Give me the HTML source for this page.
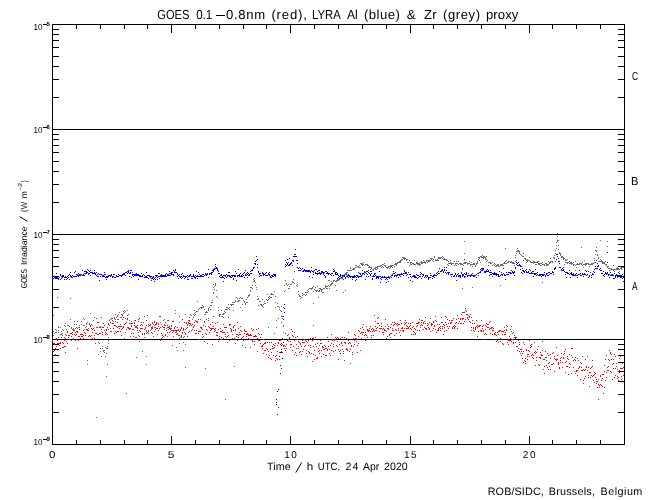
<!DOCTYPE html>
<html><head><meta charset="utf-8"><style>
html,body{margin:0;padding:0;background:#fff;}
svg{display:block;will-change:transform;}
text{font-family:"Liberation Sans",sans-serif;fill:#000;text-rendering:geometricPrecision;}
</style></head><body>
<svg width="650" height="500" viewBox="0 0 650 500">
<rect width="650" height="500" fill="#fff"/>
<g shape-rendering="crispEdges"><rect x="52" y="24" width="573" height="1" fill="#000"/><rect x="52" y="444" width="573" height="1" fill="#000"/><rect x="52" y="24" width="1" height="421" fill="#000"/><rect x="624" y="24" width="1" height="421" fill="#000"/><rect x="52" y="339" width="573" height="1" fill="#000"/><rect x="52" y="234" width="573" height="1" fill="#000"/><rect x="52" y="129" width="573" height="1" fill="#000"/><rect x="52" y="412" width="7" height="1" fill="#000"/><rect x="618" y="412" width="7" height="1" fill="#000"/><rect x="52" y="394" width="7" height="1" fill="#000"/><rect x="618" y="394" width="7" height="1" fill="#000"/><rect x="52" y="381" width="7" height="1" fill="#000"/><rect x="618" y="381" width="7" height="1" fill="#000"/><rect x="52" y="371" width="7" height="1" fill="#000"/><rect x="618" y="371" width="7" height="1" fill="#000"/><rect x="52" y="362" width="7" height="1" fill="#000"/><rect x="618" y="362" width="7" height="1" fill="#000"/><rect x="52" y="355" width="7" height="1" fill="#000"/><rect x="618" y="355" width="7" height="1" fill="#000"/><rect x="52" y="349" width="7" height="1" fill="#000"/><rect x="618" y="349" width="7" height="1" fill="#000"/><rect x="52" y="344" width="7" height="1" fill="#000"/><rect x="618" y="344" width="7" height="1" fill="#000"/><rect x="52" y="307" width="7" height="1" fill="#000"/><rect x="618" y="307" width="7" height="1" fill="#000"/><rect x="52" y="289" width="7" height="1" fill="#000"/><rect x="618" y="289" width="7" height="1" fill="#000"/><rect x="52" y="276" width="7" height="1" fill="#000"/><rect x="618" y="276" width="7" height="1" fill="#000"/><rect x="52" y="266" width="7" height="1" fill="#000"/><rect x="618" y="266" width="7" height="1" fill="#000"/><rect x="52" y="257" width="7" height="1" fill="#000"/><rect x="618" y="257" width="7" height="1" fill="#000"/><rect x="52" y="250" width="7" height="1" fill="#000"/><rect x="618" y="250" width="7" height="1" fill="#000"/><rect x="52" y="244" width="7" height="1" fill="#000"/><rect x="618" y="244" width="7" height="1" fill="#000"/><rect x="52" y="239" width="7" height="1" fill="#000"/><rect x="618" y="239" width="7" height="1" fill="#000"/><rect x="52" y="202" width="7" height="1" fill="#000"/><rect x="618" y="202" width="7" height="1" fill="#000"/><rect x="52" y="184" width="7" height="1" fill="#000"/><rect x="618" y="184" width="7" height="1" fill="#000"/><rect x="52" y="171" width="7" height="1" fill="#000"/><rect x="618" y="171" width="7" height="1" fill="#000"/><rect x="52" y="161" width="7" height="1" fill="#000"/><rect x="618" y="161" width="7" height="1" fill="#000"/><rect x="52" y="152" width="7" height="1" fill="#000"/><rect x="618" y="152" width="7" height="1" fill="#000"/><rect x="52" y="145" width="7" height="1" fill="#000"/><rect x="618" y="145" width="7" height="1" fill="#000"/><rect x="52" y="139" width="7" height="1" fill="#000"/><rect x="618" y="139" width="7" height="1" fill="#000"/><rect x="52" y="134" width="7" height="1" fill="#000"/><rect x="618" y="134" width="7" height="1" fill="#000"/><rect x="52" y="97" width="7" height="1" fill="#000"/><rect x="618" y="97" width="7" height="1" fill="#000"/><rect x="52" y="79" width="7" height="1" fill="#000"/><rect x="618" y="79" width="7" height="1" fill="#000"/><rect x="52" y="66" width="7" height="1" fill="#000"/><rect x="618" y="66" width="7" height="1" fill="#000"/><rect x="52" y="56" width="7" height="1" fill="#000"/><rect x="618" y="56" width="7" height="1" fill="#000"/><rect x="52" y="47" width="7" height="1" fill="#000"/><rect x="618" y="47" width="7" height="1" fill="#000"/><rect x="52" y="40" width="7" height="1" fill="#000"/><rect x="618" y="40" width="7" height="1" fill="#000"/><rect x="52" y="34" width="7" height="1" fill="#000"/><rect x="618" y="34" width="7" height="1" fill="#000"/><rect x="52" y="29" width="7" height="1" fill="#000"/><rect x="618" y="29" width="7" height="1" fill="#000"/><rect x="76" y="440" width="1" height="5" fill="#000"/><rect x="76" y="24" width="1" height="5" fill="#000"/><rect x="100" y="440" width="1" height="5" fill="#000"/><rect x="100" y="24" width="1" height="5" fill="#000"/><rect x="124" y="440" width="1" height="5" fill="#000"/><rect x="124" y="24" width="1" height="5" fill="#000"/><rect x="147" y="440" width="1" height="5" fill="#000"/><rect x="147" y="24" width="1" height="5" fill="#000"/><rect x="171" y="436" width="1" height="9" fill="#000"/><rect x="171" y="24" width="1" height="9" fill="#000"/><rect x="195" y="440" width="1" height="5" fill="#000"/><rect x="195" y="24" width="1" height="5" fill="#000"/><rect x="219" y="440" width="1" height="5" fill="#000"/><rect x="219" y="24" width="1" height="5" fill="#000"/><rect x="243" y="440" width="1" height="5" fill="#000"/><rect x="243" y="24" width="1" height="5" fill="#000"/><rect x="266" y="440" width="1" height="5" fill="#000"/><rect x="266" y="24" width="1" height="5" fill="#000"/><rect x="290" y="436" width="1" height="9" fill="#000"/><rect x="290" y="24" width="1" height="9" fill="#000"/><rect x="314" y="440" width="1" height="5" fill="#000"/><rect x="314" y="24" width="1" height="5" fill="#000"/><rect x="338" y="440" width="1" height="5" fill="#000"/><rect x="338" y="24" width="1" height="5" fill="#000"/><rect x="362" y="440" width="1" height="5" fill="#000"/><rect x="362" y="24" width="1" height="5" fill="#000"/><rect x="386" y="440" width="1" height="5" fill="#000"/><rect x="386" y="24" width="1" height="5" fill="#000"/><rect x="410" y="436" width="1" height="9" fill="#000"/><rect x="410" y="24" width="1" height="9" fill="#000"/><rect x="433" y="440" width="1" height="5" fill="#000"/><rect x="433" y="24" width="1" height="5" fill="#000"/><rect x="457" y="440" width="1" height="5" fill="#000"/><rect x="457" y="24" width="1" height="5" fill="#000"/><rect x="481" y="440" width="1" height="5" fill="#000"/><rect x="481" y="24" width="1" height="5" fill="#000"/><rect x="505" y="440" width="1" height="5" fill="#000"/><rect x="505" y="24" width="1" height="5" fill="#000"/><rect x="529" y="436" width="1" height="9" fill="#000"/><rect x="529" y="24" width="1" height="9" fill="#000"/><rect x="552" y="440" width="1" height="5" fill="#000"/><rect x="552" y="24" width="1" height="5" fill="#000"/><rect x="576" y="440" width="1" height="5" fill="#000"/><rect x="576" y="24" width="1" height="5" fill="#000"/><rect x="600" y="440" width="1" height="5" fill="#000"/><rect x="600" y="24" width="1" height="5" fill="#000"/><rect x="43" y="24" width="4" height="1" fill="#000"/><rect x="43" y="127" width="4" height="1" fill="#000"/><rect x="43" y="232" width="4" height="1" fill="#000"/><rect x="43" y="337" width="4" height="1" fill="#000"/><rect x="43" y="439" width="4" height="1" fill="#000"/><rect x="216" y="15" width="9" height="1" fill="#000"/></g>
<g shape-rendering="crispEdges"><path fill="#6a6a6a" d="M53 331h1v1h-1zM53 335h1v1h-1zM54 333h1v1h-1zM55 332h1v1h-1zM55 329h1v1h-1zM56 330h1v1h-1zM56 332h1v1h-1zM58 327h1v1h-1zM58 330h1v1h-1zM58 326h1v1h-1zM60 334h1v1h-1zM60 327h1v1h-1zM61 331h1v1h-1zM62 333h1v1h-1zM62 329h1v1h-1zM63 330h1v1h-1zM64 325h1v1h-1zM65 334h1v1h-1zM65 323h1v1h-1zM65 326h1v1h-1zM66 329h1v1h-1zM67 325h1v1h-1zM67 332h1v1h-1zM68 325h1v1h-1zM69 326h1v1h-1zM70 319h1v1h-1zM71 327h1v1h-1zM71 328h1v1h-1zM72 329h1v1h-1zM73 329h1v1h-1zM73 328h1v1h-1zM73 330h1v1h-1zM74 324h1v1h-1zM74 321h1v1h-1zM75 328h1v1h-1zM76 327h1v1h-1zM76 324h1v1h-1zM77 328h1v1h-1zM77 321h1v1h-1zM78 327h1v1h-1zM79 329h1v1h-1zM79 325h1v1h-1zM81 321h1v1h-1zM81 324h1v1h-1zM83 318h1v1h-1zM83 325h1v1h-1zM84 319h1v1h-1zM84 325h1v1h-1zM85 327h1v1h-1zM86 326h1v1h-1zM86 324h1v1h-1zM87 322h1v1h-1zM88 328h1v1h-1zM89 324h1v1h-1zM89 323h1v1h-1zM90 313h1v1h-1zM91 324h1v1h-1zM92 325h1v1h-1zM93 328h1v1h-1zM93 320h1v1h-1zM94 317h1v1h-1zM96 327h1v1h-1zM97 334h1v1h-1zM98 342h1v1h-1zM99 343h1v1h-1zM100 351h1v1h-1zM100 348h1v1h-1zM102 348h1v1h-1zM102 346h1v1h-1zM103 350h1v1h-1zM103 351h1v1h-1zM104 350h1v1h-1zM104 352h1v1h-1zM105 347h1v1h-1zM105 356h1v1h-1zM106 348h1v1h-1zM107 346h1v1h-1zM107 348h1v1h-1zM108 343h1v1h-1zM108 340h1v1h-1zM108 337h1v1h-1zM110 331h1v1h-1zM110 328h1v1h-1zM113 321h1v1h-1zM113 323h1v1h-1zM114 317h1v1h-1zM114 318h1v1h-1zM115 321h1v1h-1zM115 319h1v1h-1zM116 317h1v1h-1zM117 316h1v1h-1zM117 315h1v1h-1zM117 319h1v1h-1zM118 319h1v1h-1zM118 314h1v1h-1zM119 312h1v1h-1zM120 317h1v1h-1zM120 324h1v1h-1zM121 314h1v1h-1zM121 317h1v1h-1zM122 315h1v1h-1zM122 314h1v1h-1zM123 311h1v1h-1zM123 313h1v1h-1zM124 312h1v1h-1zM124 310h1v1h-1zM125 311h1v1h-1zM127 310h1v1h-1zM127 318h1v1h-1zM128 314h1v1h-1zM129 320h1v1h-1zM130 323h1v1h-1zM131 321h1v1h-1zM131 326h1v1h-1zM134 320h1v1h-1zM134 322h1v1h-1zM135 327h1v1h-1zM136 327h1v1h-1zM136 326h1v1h-1zM137 328h1v1h-1zM137 327h1v1h-1zM138 335h1v1h-1zM138 332h1v1h-1zM139 330h1v1h-1zM139 336h1v1h-1zM141 324h1v1h-1zM142 351h1v1h-1zM142 333h1v1h-1zM144 337h1v1h-1zM144 333h1v1h-1zM146 330h1v1h-1zM146 333h1v1h-1zM146 331h1v1h-1zM147 332h1v1h-1zM148 330h1v1h-1zM148 326h1v1h-1zM149 325h1v1h-1zM150 330h1v1h-1zM150 325h1v1h-1zM151 329h1v1h-1zM151 328h1v1h-1zM152 326h1v1h-1zM152 322h1v1h-1zM152 327h1v1h-1zM154 327h1v1h-1zM154 325h1v1h-1zM155 327h1v1h-1zM156 323h1v1h-1zM156 328h1v1h-1zM157 328h1v1h-1zM158 324h1v1h-1zM158 326h1v1h-1zM160 322h1v1h-1zM161 324h1v1h-1zM163 327h1v1h-1zM163 320h1v1h-1zM164 319h1v1h-1zM164 325h1v1h-1zM165 325h1v1h-1zM166 328h1v1h-1zM167 320h1v1h-1zM167 336h1v1h-1zM168 329h1v1h-1zM169 327h1v1h-1zM169 326h1v1h-1zM170 331h1v1h-1zM171 328h1v1h-1zM171 330h1v1h-1zM172 330h1v1h-1zM173 331h1v1h-1zM173 330h1v1h-1zM174 327h1v1h-1zM175 332h1v1h-1zM175 330h1v1h-1zM176 331h1v1h-1zM176 332h1v1h-1zM177 330h1v1h-1zM177 334h1v1h-1zM178 335h1v1h-1zM179 322h1v1h-1zM179 338h1v1h-1zM180 337h1v1h-1zM181 337h1v1h-1zM181 336h1v1h-1zM182 333h1v1h-1zM183 330h1v1h-1zM183 342h1v1h-1zM184 336h1v1h-1zM184 332h1v1h-1zM185 334h1v1h-1zM186 328h1v1h-1zM187 324h1v1h-1zM187 325h1v1h-1zM188 322h1v1h-1zM188 323h1v1h-1zM189 325h1v1h-1zM189 321h1v1h-1zM189 317h1v1h-1zM191 315h1v1h-1zM192 319h1v1h-1zM193 317h1v1h-1zM193 314h1v1h-1zM194 315h1v1h-1zM194 310h1v1h-1zM194 313h1v1h-1zM195 314h1v1h-1zM195 312h1v1h-1zM196 311h1v1h-1zM197 311h1v1h-1zM197 301h1v1h-1zM198 309h1v1h-1zM199 308h1v1h-1zM200 307h1v1h-1zM201 308h1v1h-1zM201 307h1v1h-1zM202 307h1v1h-1zM202 305h1v1h-1zM203 306h1v1h-1zM203 307h1v1h-1zM204 309h1v1h-1zM204 314h1v1h-1zM205 314h1v1h-1zM205 312h1v1h-1zM206 311h1v1h-1zM206 312h1v1h-1zM207 312h1v1h-1zM208 309h1v1h-1zM208 308h1v1h-1zM208 310h1v1h-1zM209 307h1v1h-1zM210 305h1v1h-1zM210 309h1v1h-1zM211 305h1v1h-1zM211 302h1v1h-1zM212 302h1v1h-1zM212 300h1v1h-1zM213 293h1v1h-1zM213 287h1v1h-1zM214 289h1v1h-1zM214 286h1v1h-1zM215 285h1v1h-1zM215 284h1v1h-1zM215 283h1v1h-1zM216 290h1v1h-1zM216 296h1v1h-1zM217 297h1v1h-1zM218 307h1v1h-1zM218 310h1v1h-1zM219 315h1v1h-1zM219 316h1v1h-1zM220 314h1v1h-1zM221 310h1v1h-1zM221 316h1v1h-1zM222 316h1v1h-1zM222 314h1v1h-1zM223 314h1v1h-1zM223 313h1v1h-1zM223 317h1v1h-1zM224 311h1v1h-1zM224 313h1v1h-1zM225 312h1v1h-1zM225 309h1v1h-1zM226 307h1v1h-1zM226 309h1v1h-1zM227 307h1v1h-1zM227 309h1v1h-1zM228 308h1v1h-1zM228 304h1v1h-1zM229 309h1v1h-1zM229 307h1v1h-1zM230 304h1v1h-1zM231 304h1v1h-1zM231 305h1v1h-1zM232 302h1v1h-1zM232 304h1v1h-1zM233 310h1v1h-1zM233 302h1v1h-1zM233 304h1v1h-1zM234 302h1v1h-1zM235 301h1v1h-1zM235 300h1v1h-1zM236 297h1v1h-1zM237 298h1v1h-1zM237 301h1v1h-1zM238 300h1v1h-1zM238 301h1v1h-1zM239 300h1v1h-1zM239 298h1v1h-1zM240 297h1v1h-1zM240 307h1v1h-1zM241 298h1v1h-1zM242 304h1v1h-1zM242 298h1v1h-1zM242 310h1v1h-1zM243 300h1v1h-1zM244 302h1v1h-1zM244 301h1v1h-1zM245 304h1v1h-1zM245 303h1v1h-1zM246 302h1v1h-1zM246 299h1v1h-1zM247 302h1v1h-1zM247 297h1v1h-1zM248 295h1v1h-1zM248 296h1v1h-1zM249 294h1v1h-1zM249 295h1v1h-1zM250 290h1v1h-1zM250 291h1v1h-1zM250 287h1v1h-1zM251 287h1v1h-1zM252 288h1v1h-1zM252 285h1v1h-1zM253 279h1v1h-1zM253 281h1v1h-1zM254 280h1v1h-1zM254 278h1v1h-1zM254 281h1v1h-1zM255 282h1v1h-1zM255 285h1v1h-1zM256 289h1v1h-1zM256 287h1v1h-1zM257 299h1v1h-1zM257 296h1v1h-1zM258 305h1v1h-1zM258 298h1v1h-1zM258 299h1v1h-1zM259 301h1v1h-1zM260 301h1v1h-1zM260 304h1v1h-1zM261 304h1v1h-1zM261 305h1v1h-1zM262 305h1v1h-1zM262 306h1v1h-1zM262 299h1v1h-1zM263 307h1v1h-1zM263 304h1v1h-1zM264 301h1v1h-1zM264 303h1v1h-1zM265 303h1v1h-1zM266 299h1v1h-1zM267 294h1v1h-1zM267 302h1v1h-1zM267 300h1v1h-1zM268 297h1v1h-1zM268 299h1v1h-1zM269 298h1v1h-1zM269 296h1v1h-1zM270 297h1v1h-1zM270 294h1v1h-1zM271 294h1v1h-1zM271 297h1v1h-1zM271 293h1v1h-1zM272 294h1v1h-1zM273 294h1v1h-1zM274 291h1v1h-1zM275 296h1v1h-1zM275 307h1v1h-1zM275 302h1v1h-1zM277 306h1v1h-1zM277 303h1v1h-1zM278 306h1v1h-1zM279 307h1v1h-1zM279 309h1v1h-1zM280 310h1v1h-1zM281 311h1v1h-1zM281 306h1v1h-1zM281 316h1v1h-1zM282 318h1v1h-1zM282 316h1v1h-1zM283 326h1v1h-1zM283 307h1v1h-1zM284 291h1v1h-1zM284 285h1v1h-1zM285 290h1v1h-1zM285 280h1v1h-1zM286 283h1v1h-1zM286 284h1v1h-1zM287 285h1v1h-1zM288 284h1v1h-1zM288 288h1v1h-1zM289 286h1v1h-1zM289 288h1v1h-1zM290 284h1v1h-1zM291 284h1v1h-1zM292 282h1v1h-1zM292 281h1v1h-1zM293 279h1v1h-1zM293 282h1v1h-1zM294 271h1v1h-1zM294 283h1v1h-1zM296 285h1v1h-1zM297 284h1v1h-1zM297 286h1v1h-1zM298 291h1v1h-1zM298 294h1v1h-1zM299 296h1v1h-1zM299 295h1v1h-1zM300 298h1v1h-1zM300 296h1v1h-1zM301 297h1v1h-1zM302 293h1v1h-1zM302 295h1v1h-1zM303 294h1v1h-1zM304 294h1v1h-1zM305 295h1v1h-1zM305 292h1v1h-1zM306 294h1v1h-1zM306 292h1v1h-1zM307 290h1v1h-1zM307 292h1v1h-1zM308 289h1v1h-1zM308 291h1v1h-1zM309 288h1v1h-1zM310 288h1v1h-1zM311 288h1v1h-1zM311 289h1v1h-1zM312 288h1v1h-1zM312 287h1v1h-1zM313 286h1v1h-1zM313 291h1v1h-1zM314 289h1v1h-1zM315 290h1v1h-1zM315 287h1v1h-1zM316 291h1v1h-1zM316 290h1v1h-1zM317 286h1v1h-1zM317 290h1v1h-1zM318 297h1v1h-1zM318 291h1v1h-1zM319 291h1v1h-1zM319 290h1v1h-1zM319 288h1v1h-1zM320 289h1v1h-1zM320 288h1v1h-1zM321 289h1v1h-1zM321 291h1v1h-1zM321 290h1v1h-1zM322 292h1v1h-1zM322 289h1v1h-1zM323 292h1v1h-1zM323 288h1v1h-1zM324 288h1v1h-1zM325 286h1v1h-1zM325 287h1v1h-1zM325 285h1v1h-1zM326 286h1v1h-1zM326 288h1v1h-1zM327 286h1v1h-1zM327 288h1v1h-1zM328 285h1v1h-1zM328 280h1v1h-1zM329 288h1v1h-1zM329 286h1v1h-1zM329 280h1v1h-1zM330 284h1v1h-1zM330 285h1v1h-1zM331 283h1v1h-1zM331 284h1v1h-1zM331 281h1v1h-1zM332 282h1v1h-1zM332 283h1v1h-1zM333 281h1v1h-1zM333 280h1v1h-1zM334 280h1v1h-1zM335 281h1v1h-1zM335 285h1v1h-1zM336 280h1v1h-1zM336 281h1v1h-1zM337 280h1v1h-1zM337 279h1v1h-1zM338 280h1v1h-1zM338 279h1v1h-1zM339 278h1v1h-1zM339 279h1v1h-1zM340 278h1v1h-1zM341 278h1v1h-1zM341 275h1v1h-1zM342 276h1v1h-1zM342 275h1v1h-1zM342 278h1v1h-1zM343 276h1v1h-1zM344 274h1v1h-1zM345 274h1v1h-1zM345 273h1v1h-1zM346 273h1v1h-1zM346 272h1v1h-1zM347 272h1v1h-1zM347 270h1v1h-1zM348 270h1v1h-1zM349 270h1v1h-1zM350 270h1v1h-1zM350 267h1v1h-1zM350 268h1v1h-1zM351 270h1v1h-1zM352 269h1v1h-1zM353 268h1v1h-1zM353 269h1v1h-1zM354 269h1v1h-1zM354 268h1v1h-1zM355 265h1v1h-1zM355 267h1v1h-1zM356 267h1v1h-1zM356 265h1v1h-1zM357 266h1v1h-1zM358 267h1v1h-1zM358 266h1v1h-1zM359 267h1v1h-1zM359 265h1v1h-1zM360 263h1v1h-1zM360 267h1v1h-1zM361 264h1v1h-1zM361 263h1v1h-1zM362 265h1v1h-1zM362 264h1v1h-1zM362 263h1v1h-1zM363 262h1v1h-1zM363 264h1v1h-1zM364 265h1v1h-1zM365 264h1v1h-1zM366 264h1v1h-1zM367 264h1v1h-1zM367 265h1v1h-1zM368 265h1v1h-1zM368 267h1v1h-1zM369 266h1v1h-1zM369 267h1v1h-1zM370 267h1v1h-1zM370 269h1v1h-1zM371 267h1v1h-1zM371 268h1v1h-1zM372 269h1v1h-1zM373 270h1v1h-1zM373 269h1v1h-1zM374 268h1v1h-1zM375 269h1v1h-1zM375 267h1v1h-1zM375 268h1v1h-1zM376 269h1v1h-1zM376 267h1v1h-1zM377 268h1v1h-1zM377 267h1v1h-1zM377 266h1v1h-1zM378 266h1v1h-1zM379 266h1v1h-1zM380 266h1v1h-1zM380 265h1v1h-1zM381 265h1v1h-1zM381 267h1v1h-1zM382 266h1v1h-1zM382 264h1v1h-1zM383 264h1v1h-1zM383 267h1v1h-1zM384 263h1v1h-1zM384 265h1v1h-1zM385 265h1v1h-1zM385 266h1v1h-1zM386 267h1v1h-1zM387 267h1v1h-1zM387 268h1v1h-1zM388 267h1v1h-1zM388 266h1v1h-1zM389 268h1v1h-1zM389 266h1v1h-1zM390 265h1v1h-1zM390 266h1v1h-1zM390 267h1v1h-1zM391 266h1v1h-1zM391 265h1v1h-1zM392 265h1v1h-1zM392 267h1v1h-1zM393 265h1v1h-1zM394 264h1v1h-1zM394 266h1v1h-1zM395 263h1v1h-1zM395 264h1v1h-1zM396 264h1v1h-1zM396 265h1v1h-1zM396 263h1v1h-1zM397 262h1v1h-1zM397 263h1v1h-1zM398 262h1v1h-1zM399 262h1v1h-1zM399 261h1v1h-1zM400 262h1v1h-1zM400 261h1v1h-1zM400 260h1v1h-1zM401 259h1v1h-1zM401 260h1v1h-1zM402 259h1v1h-1zM402 257h1v1h-1zM403 258h1v1h-1zM403 257h1v1h-1zM404 257h1v1h-1zM404 258h1v1h-1zM404 259h1v1h-1zM405 258h1v1h-1zM406 259h1v1h-1zM406 260h1v1h-1zM407 262h1v1h-1zM407 259h1v1h-1zM408 262h1v1h-1zM409 260h1v1h-1zM409 265h1v1h-1zM410 264h1v1h-1zM410 263h1v1h-1zM410 262h1v1h-1zM411 262h1v1h-1zM411 264h1v1h-1zM412 263h1v1h-1zM413 264h1v1h-1zM413 263h1v1h-1zM414 264h1v1h-1zM414 260h1v1h-1zM415 264h1v1h-1zM416 262h1v1h-1zM416 263h1v1h-1zM417 264h1v1h-1zM417 262h1v1h-1zM417 263h1v1h-1zM418 264h1v1h-1zM418 263h1v1h-1zM419 263h1v1h-1zM419 264h1v1h-1zM419 265h1v1h-1zM420 264h1v1h-1zM420 262h1v1h-1zM421 262h1v1h-1zM421 263h1v1h-1zM421 261h1v1h-1zM422 262h1v1h-1zM422 263h1v1h-1zM423 260h1v1h-1zM423 262h1v1h-1zM424 261h1v1h-1zM424 262h1v1h-1zM425 262h1v1h-1zM425 263h1v1h-1zM426 261h1v1h-1zM426 260h1v1h-1zM427 260h1v1h-1zM427 262h1v1h-1zM428 261h1v1h-1zM428 260h1v1h-1zM429 260h1v1h-1zM429 261h1v1h-1zM430 260h1v1h-1zM430 258h1v1h-1zM431 259h1v1h-1zM431 258h1v1h-1zM432 260h1v1h-1zM432 258h1v1h-1zM433 259h1v1h-1zM433 261h1v1h-1zM434 256h1v1h-1zM434 257h1v1h-1zM435 259h1v1h-1zM435 260h1v1h-1zM436 260h1v1h-1zM437 259h1v1h-1zM437 260h1v1h-1zM438 260h1v1h-1zM438 257h1v1h-1zM438 258h1v1h-1zM439 258h1v1h-1zM439 257h1v1h-1zM440 258h1v1h-1zM440 257h1v1h-1zM441 257h1v1h-1zM442 256h1v1h-1zM442 258h1v1h-1zM443 257h1v1h-1zM443 259h1v1h-1zM444 259h1v1h-1zM444 258h1v1h-1zM445 259h1v1h-1zM446 260h1v1h-1zM446 259h1v1h-1zM447 260h1v1h-1zM447 264h1v1h-1zM448 261h1v1h-1zM448 265h1v1h-1zM448 263h1v1h-1zM449 263h1v1h-1zM450 262h1v1h-1zM450 263h1v1h-1zM450 260h1v1h-1zM451 263h1v1h-1zM451 264h1v1h-1zM452 263h1v1h-1zM453 263h1v1h-1zM454 261h1v1h-1zM454 265h1v1h-1zM455 264h1v1h-1zM455 263h1v1h-1zM456 263h1v1h-1zM456 265h1v1h-1zM456 261h1v1h-1zM457 263h1v1h-1zM458 264h1v1h-1zM458 261h1v1h-1zM459 263h1v1h-1zM460 263h1v1h-1zM460 264h1v1h-1zM461 263h1v1h-1zM461 264h1v1h-1zM462 264h1v1h-1zM462 269h1v1h-1zM463 263h1v1h-1zM463 265h1v1h-1zM464 263h1v1h-1zM464 262h1v1h-1zM465 262h1v1h-1zM465 263h1v1h-1zM466 262h1v1h-1zM467 263h1v1h-1zM467 264h1v1h-1zM468 263h1v1h-1zM469 261h1v1h-1zM469 263h1v1h-1zM470 264h1v1h-1zM470 265h1v1h-1zM471 264h1v1h-1zM471 262h1v1h-1zM472 264h1v1h-1zM472 266h1v1h-1zM473 264h1v1h-1zM473 263h1v1h-1zM474 264h1v1h-1zM474 263h1v1h-1zM475 265h1v1h-1zM475 266h1v1h-1zM476 264h1v1h-1zM476 263h1v1h-1zM477 263h1v1h-1zM477 262h1v1h-1zM477 261h1v1h-1zM478 259h1v1h-1zM478 257h1v1h-1zM479 260h1v1h-1zM479 258h1v1h-1zM479 257h1v1h-1zM480 262h1v1h-1zM480 256h1v1h-1zM481 256h1v1h-1zM481 257h1v1h-1zM482 255h1v1h-1zM482 257h1v1h-1zM483 256h1v1h-1zM483 258h1v1h-1zM483 257h1v1h-1zM484 256h1v1h-1zM484 257h1v1h-1zM485 257h1v1h-1zM485 258h1v1h-1zM485 259h1v1h-1zM486 261h1v1h-1zM486 259h1v1h-1zM486 256h1v1h-1zM487 260h1v1h-1zM488 262h1v1h-1zM488 265h1v1h-1zM489 262h1v1h-1zM490 263h1v1h-1zM490 262h1v1h-1zM491 263h1v1h-1zM492 262h1v1h-1zM492 265h1v1h-1zM493 264h1v1h-1zM494 265h1v1h-1zM494 263h1v1h-1zM495 264h1v1h-1zM495 266h1v1h-1zM496 266h1v1h-1zM496 265h1v1h-1zM497 264h1v1h-1zM497 265h1v1h-1zM498 265h1v1h-1zM498 264h1v1h-1zM498 266h1v1h-1zM499 266h1v1h-1zM500 264h1v1h-1zM500 265h1v1h-1zM501 264h1v1h-1zM501 265h1v1h-1zM502 264h1v1h-1zM502 265h1v1h-1zM503 265h1v1h-1zM503 263h1v1h-1zM504 263h1v1h-1zM504 262h1v1h-1zM505 261h1v1h-1zM505 263h1v1h-1zM506 260h1v1h-1zM506 263h1v1h-1zM507 262h1v1h-1zM508 262h1v1h-1zM508 261h1v1h-1zM509 261h1v1h-1zM510 262h1v1h-1zM511 262h1v1h-1zM511 261h1v1h-1zM512 263h1v1h-1zM512 262h1v1h-1zM513 262h1v1h-1zM513 263h1v1h-1zM514 265h1v1h-1zM514 263h1v1h-1zM515 261h1v1h-1zM515 257h1v1h-1zM515 255h1v1h-1zM516 253h1v1h-1zM516 251h1v1h-1zM517 248h1v1h-1zM517 250h1v1h-1zM517 251h1v1h-1zM518 251h1v1h-1zM518 250h1v1h-1zM519 251h1v1h-1zM519 253h1v1h-1zM519 252h1v1h-1zM520 254h1v1h-1zM521 255h1v1h-1zM522 256h1v1h-1zM523 256h1v1h-1zM523 253h1v1h-1zM523 260h1v1h-1zM524 258h1v1h-1zM525 258h1v1h-1zM525 259h1v1h-1zM526 260h1v1h-1zM526 262h1v1h-1zM527 259h1v1h-1zM527 260h1v1h-1zM527 261h1v1h-1zM528 260h1v1h-1zM529 257h1v1h-1zM529 260h1v1h-1zM530 262h1v1h-1zM530 261h1v1h-1zM531 262h1v1h-1zM532 262h1v1h-1zM533 261h1v1h-1zM533 263h1v1h-1zM533 262h1v1h-1zM534 261h1v1h-1zM534 262h1v1h-1zM535 262h1v1h-1zM535 264h1v1h-1zM536 264h1v1h-1zM536 262h1v1h-1zM537 262h1v1h-1zM537 261h1v1h-1zM538 264h1v1h-1zM538 261h1v1h-1zM538 263h1v1h-1zM539 264h1v1h-1zM539 263h1v1h-1zM540 263h1v1h-1zM540 265h1v1h-1zM541 265h1v1h-1zM541 263h1v1h-1zM542 262h1v1h-1zM542 264h1v1h-1zM543 264h1v1h-1zM544 264h1v1h-1zM544 265h1v1h-1zM545 263h1v1h-1zM546 263h1v1h-1zM546 265h1v1h-1zM546 264h1v1h-1zM547 265h1v1h-1zM547 264h1v1h-1zM548 264h1v1h-1zM548 261h1v1h-1zM549 262h1v1h-1zM549 263h1v1h-1zM550 262h1v1h-1zM550 261h1v1h-1zM550 258h1v1h-1zM551 261h1v1h-1zM552 261h1v1h-1zM552 262h1v1h-1zM553 257h1v1h-1zM554 258h1v1h-1zM554 257h1v1h-1zM554 255h1v1h-1zM555 253h1v1h-1zM555 250h1v1h-1zM556 248h1v1h-1zM556 245h1v1h-1zM556 242h1v1h-1zM557 241h1v1h-1zM557 240h1v1h-1zM558 240h1v1h-1zM558 245h1v1h-1zM558 249h1v1h-1zM559 252h1v1h-1zM559 253h1v1h-1zM560 253h1v1h-1zM560 255h1v1h-1zM560 254h1v1h-1zM561 257h1v1h-1zM561 256h1v1h-1zM562 256h1v1h-1zM562 257h1v1h-1zM563 257h1v1h-1zM563 258h1v1h-1zM563 259h1v1h-1zM564 258h1v1h-1zM564 264h1v1h-1zM565 260h1v1h-1zM565 259h1v1h-1zM565 262h1v1h-1zM566 260h1v1h-1zM566 262h1v1h-1zM567 259h1v1h-1zM567 263h1v1h-1zM567 262h1v1h-1zM568 262h1v1h-1zM569 261h1v1h-1zM569 263h1v1h-1zM570 263h1v1h-1zM570 262h1v1h-1zM571 262h1v1h-1zM571 263h1v1h-1zM571 264h1v1h-1zM572 263h1v1h-1zM573 262h1v1h-1zM573 264h1v1h-1zM573 265h1v1h-1zM574 264h1v1h-1zM575 270h1v1h-1zM575 261h1v1h-1zM575 265h1v1h-1zM576 264h1v1h-1zM576 267h1v1h-1zM577 264h1v1h-1zM577 263h1v1h-1zM578 264h1v1h-1zM579 264h1v1h-1zM579 263h1v1h-1zM580 263h1v1h-1zM581 263h1v1h-1zM581 264h1v1h-1zM582 265h1v1h-1zM582 262h1v1h-1zM583 264h1v1h-1zM583 267h1v1h-1zM584 264h1v1h-1zM584 260h1v1h-1zM585 263h1v1h-1zM585 265h1v1h-1zM585 264h1v1h-1zM586 264h1v1h-1zM586 263h1v1h-1zM587 263h1v1h-1zM588 264h1v1h-1zM588 263h1v1h-1zM589 264h1v1h-1zM589 266h1v1h-1zM590 264h1v1h-1zM591 264h1v1h-1zM591 263h1v1h-1zM592 264h1v1h-1zM592 263h1v1h-1zM593 263h1v1h-1zM594 262h1v1h-1zM594 260h1v1h-1zM594 258h1v1h-1zM595 254h1v1h-1zM595 250h1v1h-1zM596 247h1v1h-1zM596 250h1v1h-1zM596 251h1v1h-1zM597 254h1v1h-1zM597 255h1v1h-1zM598 257h1v1h-1zM598 258h1v1h-1zM598 261h1v1h-1zM599 261h1v1h-1zM600 261h1v1h-1zM600 259h1v1h-1zM601 260h1v1h-1zM601 261h1v1h-1zM602 261h1v1h-1zM602 262h1v1h-1zM602 263h1v1h-1zM603 262h1v1h-1zM603 263h1v1h-1zM604 262h1v1h-1zM604 263h1v1h-1zM605 261h1v1h-1zM605 264h1v1h-1zM606 264h1v1h-1zM606 265h1v1h-1zM607 267h1v1h-1zM607 266h1v1h-1zM608 266h1v1h-1zM608 268h1v1h-1zM609 268h1v1h-1zM609 270h1v1h-1zM610 268h1v1h-1zM610 270h1v1h-1zM611 268h1v1h-1zM611 274h1v1h-1zM611 269h1v1h-1zM612 269h1v1h-1zM613 270h1v1h-1zM613 269h1v1h-1zM613 265h1v1h-1zM614 269h1v1h-1zM614 271h1v1h-1zM615 269h1v1h-1zM616 268h1v1h-1zM616 269h1v1h-1zM617 267h1v1h-1zM617 269h1v1h-1zM617 268h1v1h-1zM618 268h1v1h-1zM618 269h1v1h-1zM619 269h1v1h-1zM619 271h1v1h-1zM620 268h1v1h-1zM621 268h1v1h-1zM621 267h1v1h-1zM621 269h1v1h-1zM622 267h1v1h-1zM623 267h1v1h-1zM98 354h1v1h-1zM101 356h1v1h-1zM106 353h1v1h-1zM57 297h1v1h-1zM70 298h1v1h-1zM53 315h1v1h-1zM87 360h1v1h-1zM87 364h1v1h-1zM107 364h1v1h-1zM106 376h1v1h-1zM126 393h1v1h-1zM96 417h1v1h-1zM136 357h1v1h-1zM146 356h1v1h-1zM146 364h1v1h-1zM172 345h1v1h-1zM179 343h1v1h-1zM176 347h1v1h-1zM177 350h1v1h-1zM185 344h1v1h-1zM183 350h1v1h-1zM185 367h1v1h-1zM205 368h1v1h-1zM234 366h1v1h-1zM225 399h1v1h-1zM313 303h1v1h-1zM313 325h1v1h-1zM336 290h1v1h-1zM345 290h1v1h-1zM343 292h1v1h-1zM268 327h1v1h-1zM276 320h1v1h-1zM283 325h1v1h-1zM283 332h1v1h-1zM276 327h1v1h-1zM274 333h1v1h-1zM278 318h1v1h-1zM281 322h1v1h-1zM464 241h1v1h-1zM464 253h1v1h-1zM462 288h1v1h-1zM472 287h1v1h-1zM500 285h1v1h-1zM505 248h1v1h-1zM542 282h1v1h-1zM607 246h1v1h-1zM607 241h1v1h-1zM581 247h1v1h-1zM600 240h1v1h-1zM557 233h1v1h-1zM557 236h1v1h-1zM175 310h1v1h-1zM175 313h1v1h-1zM213 284h1v1h-1zM213 292h1v1h-1z"/><path fill="#ff0000" d="M52 350h1v1h-1zM52 340h1v1h-1zM53 343h1v1h-1zM53 351h1v1h-1zM54 344h1v1h-1zM54 350h1v1h-1zM54 343h1v1h-1zM55 348h1v1h-1zM55 354h1v1h-1zM56 339h1v1h-1zM56 346h1v1h-1zM56 338h1v1h-1zM57 343h1v1h-1zM57 340h1v1h-1zM58 343h1v1h-1zM58 337h1v1h-1zM58 332h1v1h-1zM59 345h1v1h-1zM59 343h1v1h-1zM60 348h1v1h-1zM60 343h1v1h-1zM60 342h1v1h-1zM61 337h1v1h-1zM61 334h1v1h-1zM62 342h1v1h-1zM62 335h1v1h-1zM62 347h1v1h-1zM63 347h1v1h-1zM63 343h1v1h-1zM64 346h1v1h-1zM64 340h1v1h-1zM64 337h1v1h-1zM65 352h1v1h-1zM65 338h1v1h-1zM65 346h1v1h-1zM66 335h1v1h-1zM66 341h1v1h-1zM67 343h1v1h-1zM67 331h1v1h-1zM67 332h1v1h-1zM68 335h1v1h-1zM68 337h1v1h-1zM69 339h1v1h-1zM69 335h1v1h-1zM70 333h1v1h-1zM71 340h1v1h-1zM71 336h1v1h-1zM71 333h1v1h-1zM72 332h1v1h-1zM72 334h1v1h-1zM73 330h1v1h-1zM73 338h1v1h-1zM73 339h1v1h-1zM74 330h1v1h-1zM74 334h1v1h-1zM75 335h1v1h-1zM75 340h1v1h-1zM75 332h1v1h-1zM76 334h1v1h-1zM76 331h1v1h-1zM77 331h1v1h-1zM77 332h1v1h-1zM77 348h1v1h-1zM78 340h1v1h-1zM78 336h1v1h-1zM79 336h1v1h-1zM79 327h1v1h-1zM79 329h1v1h-1zM80 338h1v1h-1zM80 334h1v1h-1zM81 339h1v1h-1zM81 334h1v1h-1zM81 336h1v1h-1zM82 334h1v1h-1zM82 336h1v1h-1zM83 335h1v1h-1zM83 338h1v1h-1zM83 330h1v1h-1zM84 332h1v1h-1zM84 329h1v1h-1zM85 333h1v1h-1zM85 335h1v1h-1zM86 323h1v1h-1zM86 329h1v1h-1zM87 329h1v1h-1zM87 330h1v1h-1zM88 330h1v1h-1zM88 336h1v1h-1zM89 335h1v1h-1zM89 339h1v1h-1zM89 324h1v1h-1zM90 326h1v1h-1zM90 325h1v1h-1zM90 336h1v1h-1zM91 335h1v1h-1zM91 328h1v1h-1zM92 329h1v1h-1zM92 332h1v1h-1zM92 338h1v1h-1zM93 339h1v1h-1zM93 328h1v1h-1zM94 335h1v1h-1zM94 330h1v1h-1zM94 338h1v1h-1zM95 343h1v1h-1zM95 333h1v1h-1zM96 333h1v1h-1zM96 318h1v1h-1zM97 322h1v1h-1zM97 327h1v1h-1zM98 334h1v1h-1zM98 322h1v1h-1zM98 342h1v1h-1zM99 327h1v1h-1zM99 333h1v1h-1zM100 327h1v1h-1zM100 333h1v1h-1zM100 326h1v1h-1zM101 329h1v1h-1zM101 317h1v1h-1zM102 334h1v1h-1zM102 332h1v1h-1zM102 327h1v1h-1zM103 327h1v1h-1zM103 323h1v1h-1zM104 325h1v1h-1zM104 330h1v1h-1zM105 332h1v1h-1zM105 334h1v1h-1zM106 333h1v1h-1zM106 330h1v1h-1zM106 329h1v1h-1zM107 327h1v1h-1zM107 334h1v1h-1zM108 324h1v1h-1zM108 323h1v1h-1zM108 329h1v1h-1zM109 320h1v1h-1zM109 325h1v1h-1zM110 319h1v1h-1zM110 322h1v1h-1zM110 339h1v1h-1zM111 318h1v1h-1zM111 331h1v1h-1zM112 323h1v1h-1zM112 320h1v1h-1zM112 318h1v1h-1zM113 328h1v1h-1zM113 323h1v1h-1zM114 325h1v1h-1zM114 333h1v1h-1zM114 318h1v1h-1zM115 314h1v1h-1zM115 325h1v1h-1zM115 331h1v1h-1zM116 326h1v1h-1zM116 332h1v1h-1zM117 331h1v1h-1zM117 327h1v1h-1zM117 322h1v1h-1zM118 326h1v1h-1zM118 331h1v1h-1zM119 328h1v1h-1zM119 326h1v1h-1zM120 326h1v1h-1zM120 331h1v1h-1zM121 326h1v1h-1zM121 335h1v1h-1zM121 329h1v1h-1zM122 328h1v1h-1zM122 319h1v1h-1zM123 317h1v1h-1zM123 327h1v1h-1zM123 326h1v1h-1zM124 338h1v1h-1zM124 324h1v1h-1zM125 323h1v1h-1zM125 332h1v1h-1zM125 318h1v1h-1zM126 329h1v1h-1zM126 322h1v1h-1zM127 315h1v1h-1zM127 319h1v1h-1zM127 327h1v1h-1zM128 328h1v1h-1zM128 327h1v1h-1zM129 323h1v1h-1zM129 328h1v1h-1zM129 329h1v1h-1zM130 328h1v1h-1zM130 336h1v1h-1zM131 333h1v1h-1zM131 323h1v1h-1zM131 325h1v1h-1zM132 323h1v1h-1zM132 329h1v1h-1zM133 333h1v1h-1zM133 336h1v1h-1zM133 329h1v1h-1zM134 325h1v1h-1zM134 323h1v1h-1zM135 320h1v1h-1zM135 337h1v1h-1zM135 326h1v1h-1zM136 326h1v1h-1zM136 337h1v1h-1zM137 325h1v1h-1zM137 328h1v1h-1zM137 330h1v1h-1zM138 319h1v1h-1zM138 321h1v1h-1zM139 341h1v1h-1zM139 330h1v1h-1zM139 318h1v1h-1zM140 325h1v1h-1zM140 328h1v1h-1zM140 331h1v1h-1zM141 328h1v1h-1zM141 322h1v1h-1zM142 328h1v1h-1zM142 334h1v1h-1zM142 325h1v1h-1zM143 322h1v1h-1zM144 316h1v1h-1zM144 334h1v1h-1zM144 329h1v1h-1zM145 327h1v1h-1zM145 328h1v1h-1zM146 333h1v1h-1zM146 325h1v1h-1zM146 320h1v1h-1zM147 332h1v1h-1zM147 315h1v1h-1zM148 324h1v1h-1zM148 331h1v1h-1zM148 333h1v1h-1zM149 325h1v1h-1zM150 324h1v1h-1zM151 332h1v1h-1zM151 327h1v1h-1zM152 333h1v1h-1zM152 328h1v1h-1zM152 323h1v1h-1zM153 324h1v1h-1zM153 336h1v1h-1zM154 322h1v1h-1zM154 331h1v1h-1zM154 321h1v1h-1zM155 329h1v1h-1zM155 324h1v1h-1zM156 324h1v1h-1zM156 322h1v1h-1zM156 323h1v1h-1zM157 328h1v1h-1zM157 334h1v1h-1zM158 330h1v1h-1zM158 323h1v1h-1zM159 316h1v1h-1zM159 328h1v1h-1zM160 340h1v1h-1zM160 316h1v1h-1zM160 327h1v1h-1zM161 333h1v1h-1zM161 338h1v1h-1zM162 335h1v1h-1zM162 326h1v1h-1zM162 337h1v1h-1zM163 336h1v1h-1zM163 327h1v1h-1zM164 329h1v1h-1zM164 324h1v1h-1zM164 327h1v1h-1zM165 335h1v1h-1zM165 322h1v1h-1zM165 334h1v1h-1zM166 330h1v1h-1zM167 325h1v1h-1zM167 332h1v1h-1zM167 327h1v1h-1zM168 327h1v1h-1zM168 320h1v1h-1zM169 328h1v1h-1zM169 326h1v1h-1zM169 332h1v1h-1zM170 329h1v1h-1zM170 328h1v1h-1zM171 326h1v1h-1zM171 325h1v1h-1zM172 332h1v1h-1zM172 321h1v1h-1zM173 321h1v1h-1zM173 330h1v1h-1zM173 336h1v1h-1zM174 330h1v1h-1zM174 328h1v1h-1zM175 339h1v1h-1zM175 330h1v1h-1zM175 326h1v1h-1zM176 330h1v1h-1zM176 334h1v1h-1zM177 327h1v1h-1zM177 333h1v1h-1zM178 329h1v1h-1zM178 330h1v1h-1zM179 316h1v1h-1zM179 335h1v1h-1zM179 331h1v1h-1zM180 330h1v1h-1zM180 329h1v1h-1zM181 327h1v1h-1zM181 335h1v1h-1zM181 328h1v1h-1zM182 332h1v1h-1zM182 319h1v1h-1zM183 337h1v1h-1zM183 328h1v1h-1zM183 329h1v1h-1zM184 322h1v1h-1zM185 329h1v1h-1zM185 314h1v1h-1zM185 333h1v1h-1zM186 323h1v1h-1zM186 322h1v1h-1zM187 327h1v1h-1zM187 336h1v1h-1zM188 332h1v1h-1zM188 320h1v1h-1zM189 323h1v1h-1zM189 331h1v1h-1zM189 320h1v1h-1zM190 314h1v1h-1zM190 323h1v1h-1zM190 324h1v1h-1zM191 325h1v1h-1zM191 330h1v1h-1zM192 329h1v1h-1zM192 324h1v1h-1zM193 326h1v1h-1zM193 327h1v1h-1zM194 322h1v1h-1zM194 330h1v1h-1zM194 325h1v1h-1zM195 333h1v1h-1zM195 320h1v1h-1zM196 333h1v1h-1zM196 321h1v1h-1zM196 330h1v1h-1zM197 321h1v1h-1zM197 322h1v1h-1zM198 331h1v1h-1zM198 319h1v1h-1zM198 333h1v1h-1zM199 339h1v1h-1zM199 331h1v1h-1zM200 319h1v1h-1zM200 331h1v1h-1zM200 327h1v1h-1zM201 328h1v1h-1zM201 327h1v1h-1zM202 334h1v1h-1zM202 337h1v1h-1zM202 329h1v1h-1zM203 336h1v1h-1zM203 325h1v1h-1zM204 341h1v1h-1zM204 322h1v1h-1zM204 321h1v1h-1zM205 326h1v1h-1zM205 333h1v1h-1zM206 334h1v1h-1zM206 319h1v1h-1zM206 329h1v1h-1zM207 330h1v1h-1zM207 343h1v1h-1zM208 326h1v1h-1zM208 320h1v1h-1zM208 318h1v1h-1zM209 327h1v1h-1zM209 332h1v1h-1zM210 330h1v1h-1zM210 328h1v1h-1zM210 324h1v1h-1zM211 328h1v1h-1zM211 329h1v1h-1zM212 344h1v1h-1zM212 328h1v1h-1zM212 322h1v1h-1zM213 326h1v1h-1zM213 328h1v1h-1zM213 316h1v1h-1zM214 329h1v1h-1zM214 331h1v1h-1zM215 330h1v1h-1zM215 323h1v1h-1zM215 328h1v1h-1zM216 332h1v1h-1zM216 335h1v1h-1zM217 332h1v1h-1zM217 322h1v1h-1zM217 335h1v1h-1zM218 341h1v1h-1zM218 329h1v1h-1zM219 314h1v1h-1zM219 336h1v1h-1zM219 338h1v1h-1zM220 331h1v1h-1zM220 328h1v1h-1zM221 339h1v1h-1zM221 337h1v1h-1zM221 331h1v1h-1zM222 330h1v1h-1zM222 332h1v1h-1zM223 338h1v1h-1zM223 332h1v1h-1zM223 324h1v1h-1zM224 327h1v1h-1zM224 332h1v1h-1zM225 334h1v1h-1zM225 327h1v1h-1zM225 336h1v1h-1zM226 327h1v1h-1zM226 337h1v1h-1zM227 342h1v1h-1zM227 336h1v1h-1zM227 332h1v1h-1zM228 335h1v1h-1zM228 317h1v1h-1zM229 340h1v1h-1zM229 325h1v1h-1zM229 324h1v1h-1zM230 328h1v1h-1zM230 324h1v1h-1zM231 331h1v1h-1zM231 329h1v1h-1zM231 330h1v1h-1zM232 338h1v1h-1zM232 334h1v1h-1zM233 327h1v1h-1zM233 330h1v1h-1zM233 326h1v1h-1zM234 338h1v1h-1zM234 325h1v1h-1zM235 329h1v1h-1zM235 343h1v1h-1zM235 330h1v1h-1zM236 334h1v1h-1zM236 336h1v1h-1zM237 322h1v1h-1zM237 334h1v1h-1zM237 340h1v1h-1zM238 335h1v1h-1zM238 337h1v1h-1zM238 328h1v1h-1zM239 334h1v1h-1zM239 332h1v1h-1zM240 334h1v1h-1zM240 326h1v1h-1zM240 330h1v1h-1zM241 338h1v1h-1zM241 331h1v1h-1zM242 339h1v1h-1zM242 345h1v1h-1zM242 337h1v1h-1zM243 336h1v1h-1zM243 340h1v1h-1zM244 330h1v1h-1zM244 333h1v1h-1zM244 329h1v1h-1zM245 331h1v1h-1zM245 347h1v1h-1zM246 331h1v1h-1zM246 336h1v1h-1zM246 334h1v1h-1zM247 333h1v1h-1zM247 334h1v1h-1zM248 335h1v1h-1zM248 338h1v1h-1zM248 334h1v1h-1zM249 339h1v1h-1zM249 335h1v1h-1zM250 334h1v1h-1zM250 335h1v1h-1zM250 347h1v1h-1zM251 328h1v1h-1zM251 335h1v1h-1zM252 341h1v1h-1zM252 340h1v1h-1zM252 330h1v1h-1zM253 329h1v1h-1zM253 336h1v1h-1zM254 344h1v1h-1zM254 341h1v1h-1zM254 336h1v1h-1zM255 335h1v1h-1zM255 336h1v1h-1zM256 336h1v1h-1zM256 329h1v1h-1zM257 338h1v1h-1zM257 351h1v1h-1zM258 340h1v1h-1zM258 328h1v1h-1zM258 333h1v1h-1zM259 340h1v1h-1zM259 334h1v1h-1zM260 343h1v1h-1zM260 337h1v1h-1zM261 334h1v1h-1zM261 346h1v1h-1zM262 345h1v1h-1zM262 346h1v1h-1zM262 348h1v1h-1zM263 344h1v1h-1zM263 353h1v1h-1zM263 339h1v1h-1zM264 350h1v1h-1zM264 343h1v1h-1zM265 343h1v1h-1zM265 342h1v1h-1zM265 350h1v1h-1zM266 348h1v1h-1zM266 354h1v1h-1zM267 342h1v1h-1zM267 349h1v1h-1zM268 351h1v1h-1zM268 357h1v1h-1zM269 342h1v1h-1zM269 355h1v1h-1zM270 358h1v1h-1zM270 349h1v1h-1zM271 352h1v1h-1zM271 342h1v1h-1zM271 359h1v1h-1zM272 348h1v1h-1zM272 346h1v1h-1zM273 355h1v1h-1zM273 344h1v1h-1zM273 348h1v1h-1zM274 347h1v1h-1zM274 345h1v1h-1zM275 356h1v1h-1zM275 360h1v1h-1zM275 343h1v1h-1zM276 358h1v1h-1zM276 355h1v1h-1zM277 345h1v1h-1zM277 351h1v1h-1zM277 359h1v1h-1zM278 342h1v1h-1zM278 343h1v1h-1zM279 340h1v1h-1zM279 359h1v1h-1zM279 352h1v1h-1zM280 340h1v1h-1zM280 344h1v1h-1zM281 349h1v1h-1zM281 343h1v1h-1zM281 351h1v1h-1zM282 344h1v1h-1zM282 352h1v1h-1zM283 346h1v1h-1zM283 345h1v1h-1zM283 339h1v1h-1zM284 345h1v1h-1zM284 348h1v1h-1zM285 333h1v1h-1zM285 346h1v1h-1zM285 350h1v1h-1zM286 348h1v1h-1zM286 344h1v1h-1zM287 340h1v1h-1zM287 335h1v1h-1zM288 339h1v1h-1zM288 334h1v1h-1zM288 341h1v1h-1zM289 337h1v1h-1zM289 338h1v1h-1zM290 347h1v1h-1zM290 341h1v1h-1zM290 344h1v1h-1zM291 329h1v1h-1zM291 344h1v1h-1zM292 335h1v1h-1zM292 350h1v1h-1zM292 331h1v1h-1zM293 336h1v1h-1zM293 346h1v1h-1zM294 354h1v1h-1zM294 332h1v1h-1zM294 340h1v1h-1zM295 337h1v1h-1zM295 352h1v1h-1zM296 355h1v1h-1zM296 344h1v1h-1zM296 348h1v1h-1zM297 339h1v1h-1zM297 336h1v1h-1zM298 346h1v1h-1zM298 341h1v1h-1zM298 348h1v1h-1zM299 342h1v1h-1zM299 352h1v1h-1zM300 343h1v1h-1zM300 344h1v1h-1zM300 351h1v1h-1zM301 346h1v1h-1zM301 354h1v1h-1zM302 342h1v1h-1zM302 340h1v1h-1zM302 351h1v1h-1zM303 349h1v1h-1zM303 342h1v1h-1zM304 339h1v1h-1zM304 342h1v1h-1zM304 346h1v1h-1zM305 345h1v1h-1zM305 340h1v1h-1zM306 341h1v1h-1zM306 350h1v1h-1zM306 353h1v1h-1zM307 356h1v1h-1zM307 342h1v1h-1zM308 340h1v1h-1zM308 351h1v1h-1zM308 345h1v1h-1zM309 352h1v1h-1zM309 353h1v1h-1zM310 345h1v1h-1zM310 347h1v1h-1zM310 338h1v1h-1zM311 339h1v1h-1zM311 353h1v1h-1zM312 361h1v1h-1zM312 338h1v1h-1zM312 340h1v1h-1zM313 346h1v1h-1zM313 354h1v1h-1zM313 338h1v1h-1zM314 350h1v1h-1zM314 359h1v1h-1zM315 337h1v1h-1zM315 344h1v1h-1zM315 355h1v1h-1zM316 358h1v1h-1zM316 346h1v1h-1zM317 357h1v1h-1zM317 358h1v1h-1zM317 343h1v1h-1zM318 351h1v1h-1zM318 348h1v1h-1zM319 350h1v1h-1zM319 353h1v1h-1zM319 345h1v1h-1zM320 340h1v1h-1zM320 343h1v1h-1zM321 343h1v1h-1zM321 350h1v1h-1zM321 356h1v1h-1zM322 347h1v1h-1zM322 346h1v1h-1zM323 347h1v1h-1zM323 354h1v1h-1zM323 349h1v1h-1zM324 349h1v1h-1zM324 345h1v1h-1zM325 348h1v1h-1zM325 346h1v1h-1zM325 355h1v1h-1zM326 348h1v1h-1zM326 355h1v1h-1zM327 350h1v1h-1zM327 349h1v1h-1zM327 337h1v1h-1zM328 346h1v1h-1zM328 341h1v1h-1zM329 353h1v1h-1zM329 349h1v1h-1zM330 345h1v1h-1zM330 355h1v1h-1zM331 334h1v1h-1zM331 350h1v1h-1zM331 343h1v1h-1zM332 339h1v1h-1zM332 340h1v1h-1zM333 344h1v1h-1zM333 346h1v1h-1zM333 351h1v1h-1zM334 340h1v1h-1zM334 339h1v1h-1zM335 350h1v1h-1zM335 337h1v1h-1zM336 338h1v1h-1zM336 345h1v1h-1zM337 341h1v1h-1zM337 346h1v1h-1zM337 337h1v1h-1zM338 338h1v1h-1zM338 359h1v1h-1zM338 349h1v1h-1zM339 351h1v1h-1zM339 344h1v1h-1zM340 338h1v1h-1zM340 350h1v1h-1zM340 353h1v1h-1zM341 342h1v1h-1zM341 343h1v1h-1zM342 349h1v1h-1zM342 345h1v1h-1zM342 337h1v1h-1zM343 351h1v1h-1zM343 353h1v1h-1zM344 337h1v1h-1zM344 360h1v1h-1zM344 342h1v1h-1zM345 342h1v1h-1zM345 343h1v1h-1zM346 349h1v1h-1zM346 348h1v1h-1zM346 338h1v1h-1zM347 349h1v1h-1zM347 350h1v1h-1zM348 343h1v1h-1zM348 332h1v1h-1zM348 340h1v1h-1zM349 342h1v1h-1zM349 351h1v1h-1zM350 343h1v1h-1zM350 349h1v1h-1zM350 363h1v1h-1zM351 346h1v1h-1zM351 345h1v1h-1zM352 352h1v1h-1zM352 354h1v1h-1zM353 346h1v1h-1zM353 338h1v1h-1zM354 334h1v1h-1zM354 340h1v1h-1zM354 344h1v1h-1zM355 338h1v1h-1zM355 335h1v1h-1zM356 341h1v1h-1zM356 339h1v1h-1zM356 338h1v1h-1zM357 352h1v1h-1zM357 345h1v1h-1zM358 330h1v1h-1zM358 343h1v1h-1zM358 336h1v1h-1zM359 331h1v1h-1zM360 350h1v1h-1zM360 333h1v1h-1zM360 328h1v1h-1zM361 332h1v1h-1zM361 338h1v1h-1zM362 334h1v1h-1zM362 332h1v1h-1zM362 327h1v1h-1zM363 329h1v1h-1zM363 324h1v1h-1zM363 332h1v1h-1zM364 335h1v1h-1zM365 332h1v1h-1zM365 340h1v1h-1zM365 334h1v1h-1zM366 335h1v1h-1zM366 326h1v1h-1zM367 330h1v1h-1zM367 329h1v1h-1zM367 337h1v1h-1zM368 331h1v1h-1zM368 330h1v1h-1zM369 330h1v1h-1zM369 339h1v1h-1zM369 328h1v1h-1zM370 326h1v1h-1zM370 331h1v1h-1zM371 329h1v1h-1zM371 337h1v1h-1zM371 335h1v1h-1zM372 331h1v1h-1zM372 328h1v1h-1zM373 329h1v1h-1zM373 335h1v1h-1zM373 330h1v1h-1zM374 331h1v1h-1zM374 315h1v1h-1zM375 321h1v1h-1zM375 326h1v1h-1zM375 330h1v1h-1zM376 330h1v1h-1zM376 328h1v1h-1zM377 318h1v1h-1zM377 327h1v1h-1zM377 323h1v1h-1zM378 317h1v1h-1zM378 323h1v1h-1zM379 325h1v1h-1zM379 328h1v1h-1zM379 331h1v1h-1zM380 328h1v1h-1zM381 326h1v1h-1zM381 328h1v1h-1zM381 323h1v1h-1zM382 332h1v1h-1zM382 329h1v1h-1zM383 334h1v1h-1zM383 332h1v1h-1zM383 328h1v1h-1zM384 329h1v1h-1zM384 330h1v1h-1zM385 330h1v1h-1zM385 319h1v1h-1zM385 326h1v1h-1zM386 338h1v1h-1zM386 331h1v1h-1zM387 336h1v1h-1zM387 328h1v1h-1zM387 324h1v1h-1zM388 329h1v1h-1zM388 328h1v1h-1zM388 326h1v1h-1zM389 334h1v1h-1zM389 335h1v1h-1zM390 327h1v1h-1zM390 337h1v1h-1zM390 333h1v1h-1zM391 324h1v1h-1zM391 333h1v1h-1zM392 330h1v1h-1zM392 328h1v1h-1zM392 322h1v1h-1zM393 330h1v1h-1zM393 325h1v1h-1zM394 335h1v1h-1zM394 324h1v1h-1zM394 322h1v1h-1zM395 329h1v1h-1zM395 323h1v1h-1zM396 333h1v1h-1zM396 324h1v1h-1zM396 330h1v1h-1zM397 323h1v1h-1zM397 325h1v1h-1zM398 328h1v1h-1zM398 324h1v1h-1zM398 330h1v1h-1zM399 324h1v1h-1zM399 332h1v1h-1zM400 330h1v1h-1zM400 320h1v1h-1zM400 335h1v1h-1zM401 328h1v1h-1zM401 323h1v1h-1zM402 328h1v1h-1zM402 327h1v1h-1zM402 330h1v1h-1zM403 330h1v1h-1zM403 331h1v1h-1zM404 322h1v1h-1zM404 328h1v1h-1zM404 324h1v1h-1zM405 320h1v1h-1zM405 323h1v1h-1zM406 322h1v1h-1zM406 328h1v1h-1zM406 325h1v1h-1zM407 328h1v1h-1zM407 326h1v1h-1zM408 327h1v1h-1zM408 328h1v1h-1zM408 323h1v1h-1zM409 326h1v1h-1zM410 325h1v1h-1zM410 323h1v1h-1zM410 328h1v1h-1zM411 329h1v1h-1zM411 334h1v1h-1zM412 327h1v1h-1zM412 322h1v1h-1zM413 326h1v1h-1zM413 331h1v1h-1zM413 334h1v1h-1zM414 328h1v1h-1zM414 332h1v1h-1zM415 333h1v1h-1zM415 334h1v1h-1zM415 329h1v1h-1zM416 323h1v1h-1zM416 326h1v1h-1zM417 330h1v1h-1zM417 323h1v1h-1zM417 325h1v1h-1zM418 322h1v1h-1zM418 323h1v1h-1zM419 319h1v1h-1zM419 330h1v1h-1zM419 322h1v1h-1zM420 325h1v1h-1zM420 327h1v1h-1zM421 324h1v1h-1zM421 320h1v1h-1zM421 322h1v1h-1zM422 320h1v1h-1zM422 325h1v1h-1zM423 322h1v1h-1zM423 329h1v1h-1zM423 323h1v1h-1zM424 327h1v1h-1zM424 321h1v1h-1zM425 317h1v1h-1zM425 323h1v1h-1zM425 328h1v1h-1zM426 328h1v1h-1zM426 329h1v1h-1zM427 323h1v1h-1zM427 325h1v1h-1zM428 324h1v1h-1zM428 327h1v1h-1zM429 328h1v1h-1zM429 329h1v1h-1zM429 322h1v1h-1zM430 331h1v1h-1zM430 318h1v1h-1zM431 324h1v1h-1zM431 323h1v1h-1zM431 325h1v1h-1zM432 324h1v1h-1zM432 330h1v1h-1zM433 322h1v1h-1zM433 328h1v1h-1zM433 321h1v1h-1zM434 325h1v1h-1zM434 326h1v1h-1zM435 329h1v1h-1zM435 320h1v1h-1zM435 316h1v1h-1zM436 332h1v1h-1zM436 321h1v1h-1zM437 324h1v1h-1zM437 330h1v1h-1zM438 328h1v1h-1zM438 329h1v1h-1zM438 330h1v1h-1zM439 327h1v1h-1zM439 324h1v1h-1zM440 330h1v1h-1zM440 328h1v1h-1zM440 326h1v1h-1zM441 317h1v1h-1zM441 322h1v1h-1zM442 326h1v1h-1zM442 322h1v1h-1zM442 328h1v1h-1zM443 334h1v1h-1zM443 324h1v1h-1zM444 325h1v1h-1zM444 327h1v1h-1zM444 331h1v1h-1zM445 316h1v1h-1zM445 322h1v1h-1zM446 330h1v1h-1zM446 324h1v1h-1zM446 317h1v1h-1zM447 326h1v1h-1zM447 319h1v1h-1zM448 328h1v1h-1zM448 323h1v1h-1zM449 320h1v1h-1zM449 326h1v1h-1zM450 323h1v1h-1zM450 322h1v1h-1zM451 322h1v1h-1zM451 320h1v1h-1zM452 327h1v1h-1zM452 328h1v1h-1zM452 320h1v1h-1zM453 318h1v1h-1zM453 326h1v1h-1zM454 328h1v1h-1zM454 325h1v1h-1zM454 327h1v1h-1zM455 326h1v1h-1zM455 323h1v1h-1zM456 322h1v1h-1zM456 319h1v1h-1zM457 315h1v1h-1zM457 328h1v1h-1zM458 318h1v1h-1zM458 323h1v1h-1zM459 321h1v1h-1zM460 318h1v1h-1zM460 319h1v1h-1zM460 323h1v1h-1zM461 323h1v1h-1zM461 314h1v1h-1zM462 319h1v1h-1zM462 312h1v1h-1zM462 318h1v1h-1zM463 318h1v1h-1zM463 312h1v1h-1zM463 323h1v1h-1zM464 312h1v1h-1zM464 321h1v1h-1zM465 310h1v1h-1zM465 319h1v1h-1zM465 308h1v1h-1zM466 314h1v1h-1zM466 311h1v1h-1zM467 318h1v1h-1zM467 314h1v1h-1zM467 317h1v1h-1zM468 319h1v1h-1zM468 315h1v1h-1zM469 317h1v1h-1zM469 321h1v1h-1zM469 316h1v1h-1zM470 322h1v1h-1zM470 314h1v1h-1zM471 330h1v1h-1zM471 327h1v1h-1zM471 317h1v1h-1zM472 320h1v1h-1zM472 323h1v1h-1zM473 327h1v1h-1zM473 328h1v1h-1zM473 330h1v1h-1zM474 331h1v1h-1zM474 323h1v1h-1zM475 328h1v1h-1zM475 327h1v1h-1zM475 329h1v1h-1zM476 326h1v1h-1zM476 320h1v1h-1zM477 325h1v1h-1zM477 336h1v1h-1zM477 327h1v1h-1zM478 331h1v1h-1zM478 326h1v1h-1zM479 325h1v1h-1zM479 326h1v1h-1zM480 330h1v1h-1zM480 325h1v1h-1zM481 320h1v1h-1zM481 331h1v1h-1zM481 330h1v1h-1zM482 326h1v1h-1zM482 328h1v1h-1zM483 331h1v1h-1zM483 330h1v1h-1zM483 325h1v1h-1zM484 334h1v1h-1zM484 339h1v1h-1zM485 329h1v1h-1zM485 325h1v1h-1zM485 333h1v1h-1zM486 334h1v1h-1zM486 326h1v1h-1zM486 323h1v1h-1zM487 324h1v1h-1zM487 327h1v1h-1zM488 324h1v1h-1zM488 327h1v1h-1zM489 322h1v1h-1zM489 329h1v1h-1zM490 333h1v1h-1zM490 321h1v1h-1zM490 328h1v1h-1zM491 328h1v1h-1zM491 327h1v1h-1zM492 330h1v1h-1zM492 327h1v1h-1zM492 334h1v1h-1zM493 330h1v1h-1zM493 328h1v1h-1zM494 334h1v1h-1zM494 333h1v1h-1zM494 339h1v1h-1zM495 334h1v1h-1zM495 332h1v1h-1zM496 341h1v1h-1zM496 335h1v1h-1zM497 340h1v1h-1zM497 332h1v1h-1zM498 334h1v1h-1zM498 331h1v1h-1zM498 342h1v1h-1zM499 331h1v1h-1zM499 330h1v1h-1zM500 330h1v1h-1zM500 341h1v1h-1zM500 338h1v1h-1zM501 331h1v1h-1zM502 343h1v1h-1zM502 331h1v1h-1zM502 334h1v1h-1zM503 331h1v1h-1zM503 344h1v1h-1zM504 330h1v1h-1zM504 327h1v1h-1zM504 334h1v1h-1zM505 334h1v1h-1zM505 332h1v1h-1zM506 330h1v1h-1zM506 325h1v1h-1zM506 329h1v1h-1zM507 342h1v1h-1zM507 326h1v1h-1zM508 339h1v1h-1zM508 344h1v1h-1zM508 340h1v1h-1zM509 336h1v1h-1zM509 340h1v1h-1zM510 340h1v1h-1zM510 329h1v1h-1zM510 338h1v1h-1zM511 331h1v1h-1zM511 326h1v1h-1zM511 341h1v1h-1zM512 333h1v1h-1zM512 339h1v1h-1zM513 332h1v1h-1zM513 343h1v1h-1zM513 342h1v1h-1zM514 337h1v1h-1zM514 335h1v1h-1zM515 337h1v1h-1zM515 342h1v1h-1zM515 338h1v1h-1zM516 337h1v1h-1zM516 346h1v1h-1zM517 346h1v1h-1zM517 350h1v1h-1zM518 340h1v1h-1zM518 348h1v1h-1zM519 344h1v1h-1zM519 342h1v1h-1zM519 351h1v1h-1zM520 349h1v1h-1zM520 353h1v1h-1zM521 349h1v1h-1zM521 355h1v1h-1zM521 351h1v1h-1zM522 353h1v1h-1zM522 358h1v1h-1zM523 362h1v1h-1zM523 351h1v1h-1zM523 342h1v1h-1zM524 344h1v1h-1zM524 360h1v1h-1zM525 363h1v1h-1zM525 358h1v1h-1zM525 361h1v1h-1zM526 350h1v1h-1zM526 349h1v1h-1zM527 359h1v1h-1zM527 356h1v1h-1zM527 354h1v1h-1zM528 354h1v1h-1zM528 350h1v1h-1zM529 340h1v1h-1zM529 356h1v1h-1zM529 351h1v1h-1zM530 345h1v1h-1zM530 347h1v1h-1zM531 355h1v1h-1zM531 346h1v1h-1zM531 344h1v1h-1zM532 354h1v1h-1zM532 357h1v1h-1zM533 358h1v1h-1zM533 355h1v1h-1zM534 352h1v1h-1zM534 342h1v1h-1zM535 353h1v1h-1zM535 351h1v1h-1zM535 365h1v1h-1zM536 352h1v1h-1zM536 357h1v1h-1zM536 360h1v1h-1zM537 349h1v1h-1zM538 364h1v1h-1zM538 346h1v1h-1zM539 357h1v1h-1zM539 365h1v1h-1zM540 352h1v1h-1zM540 357h1v1h-1zM540 358h1v1h-1zM541 355h1v1h-1zM541 354h1v1h-1zM542 341h1v1h-1zM542 350h1v1h-1zM542 355h1v1h-1zM543 359h1v1h-1zM543 369h1v1h-1zM544 373h1v1h-1zM544 366h1v1h-1zM544 359h1v1h-1zM545 351h1v1h-1zM545 357h1v1h-1zM546 365h1v1h-1zM546 357h1v1h-1zM546 360h1v1h-1zM547 367h1v1h-1zM547 353h1v1h-1zM548 355h1v1h-1zM548 369h1v1h-1zM548 363h1v1h-1zM549 366h1v1h-1zM549 362h1v1h-1zM550 354h1v1h-1zM550 369h1v1h-1zM550 358h1v1h-1zM551 364h1v1h-1zM552 364h1v1h-1zM552 353h1v1h-1zM553 352h1v1h-1zM553 363h1v1h-1zM554 358h1v1h-1zM554 371h1v1h-1zM554 356h1v1h-1zM555 359h1v1h-1zM556 347h1v1h-1zM556 359h1v1h-1zM556 360h1v1h-1zM557 355h1v1h-1zM557 359h1v1h-1zM558 362h1v1h-1zM558 363h1v1h-1zM558 364h1v1h-1zM559 367h1v1h-1zM559 368h1v1h-1zM560 358h1v1h-1zM560 362h1v1h-1zM560 360h1v1h-1zM561 357h1v1h-1zM561 353h1v1h-1zM562 362h1v1h-1zM562 367h1v1h-1zM563 358h1v1h-1zM563 357h1v1h-1zM563 354h1v1h-1zM564 351h1v1h-1zM564 353h1v1h-1zM565 362h1v1h-1zM565 349h1v1h-1zM565 372h1v1h-1zM566 366h1v1h-1zM566 361h1v1h-1zM567 356h1v1h-1zM567 366h1v1h-1zM567 358h1v1h-1zM568 374h1v1h-1zM568 359h1v1h-1zM569 363h1v1h-1zM569 354h1v1h-1zM569 367h1v1h-1zM570 364h1v1h-1zM571 373h1v1h-1zM571 355h1v1h-1zM571 348h1v1h-1zM572 348h1v1h-1zM572 357h1v1h-1zM573 360h1v1h-1zM573 367h1v1h-1zM574 371h1v1h-1zM574 359h1v1h-1zM575 373h1v1h-1zM575 360h1v1h-1zM575 357h1v1h-1zM576 370h1v1h-1zM576 371h1v1h-1zM577 370h1v1h-1zM577 358h1v1h-1zM577 375h1v1h-1zM578 368h1v1h-1zM578 360h1v1h-1zM579 366h1v1h-1zM579 367h1v1h-1zM580 362h1v1h-1zM580 379h1v1h-1zM581 363h1v1h-1zM581 370h1v1h-1zM581 367h1v1h-1zM582 370h1v1h-1zM582 356h1v1h-1zM583 383h1v1h-1zM583 380h1v1h-1zM583 369h1v1h-1zM584 378h1v1h-1zM584 370h1v1h-1zM585 376h1v1h-1zM585 369h1v1h-1zM585 359h1v1h-1zM586 366h1v1h-1zM586 367h1v1h-1zM587 356h1v1h-1zM587 370h1v1h-1zM588 377h1v1h-1zM588 375h1v1h-1zM588 367h1v1h-1zM589 386h1v1h-1zM589 372h1v1h-1zM590 377h1v1h-1zM590 372h1v1h-1zM590 368h1v1h-1zM591 375h1v1h-1zM591 367h1v1h-1zM592 366h1v1h-1zM592 360h1v1h-1zM592 376h1v1h-1zM593 380h1v1h-1zM593 375h1v1h-1zM594 372h1v1h-1zM594 374h1v1h-1zM594 382h1v1h-1zM595 373h1v1h-1zM595 377h1v1h-1zM596 381h1v1h-1zM596 379h1v1h-1zM596 383h1v1h-1zM597 387h1v1h-1zM597 381h1v1h-1zM598 399h1v1h-1zM598 379h1v1h-1zM598 384h1v1h-1zM599 387h1v1h-1zM599 385h1v1h-1zM600 376h1v1h-1zM600 384h1v1h-1zM600 375h1v1h-1zM601 380h1v1h-1zM601 385h1v1h-1zM602 386h1v1h-1zM602 378h1v1h-1zM602 374h1v1h-1zM603 393h1v1h-1zM603 374h1v1h-1zM604 387h1v1h-1zM604 365h1v1h-1zM604 371h1v1h-1zM605 380h1v1h-1zM605 359h1v1h-1zM606 355h1v1h-1zM606 372h1v1h-1zM606 377h1v1h-1zM607 370h1v1h-1zM607 367h1v1h-1zM608 359h1v1h-1zM608 366h1v1h-1zM608 370h1v1h-1zM609 360h1v1h-1zM609 350h1v1h-1zM610 371h1v1h-1zM610 353h1v1h-1zM610 352h1v1h-1zM611 359h1v1h-1zM611 372h1v1h-1zM611 354h1v1h-1zM612 364h1v1h-1zM612 379h1v1h-1zM613 368h1v1h-1zM613 363h1v1h-1zM613 359h1v1h-1zM614 354h1v1h-1zM614 377h1v1h-1zM615 356h1v1h-1zM615 368h1v1h-1zM615 375h1v1h-1zM616 363h1v1h-1zM616 366h1v1h-1zM617 376h1v1h-1zM617 369h1v1h-1zM617 378h1v1h-1zM618 377h1v1h-1zM618 380h1v1h-1zM619 358h1v1h-1zM619 372h1v1h-1zM619 370h1v1h-1zM620 368h1v1h-1zM620 356h1v1h-1zM621 368h1v1h-1zM621 379h1v1h-1zM621 376h1v1h-1zM622 363h1v1h-1zM622 368h1v1h-1zM623 367h1v1h-1zM623 375h1v1h-1z"/><path fill="#0000ff" d="M52 277h1v1h-1zM52 278h1v1h-1zM53 278h1v1h-1zM53 276h1v1h-1zM54 276h1v1h-1zM54 277h1v1h-1zM55 277h1v1h-1zM55 278h1v1h-1zM56 273h1v1h-1zM56 278h1v1h-1zM56 277h1v1h-1zM57 278h1v1h-1zM57 277h1v1h-1zM58 276h1v1h-1zM58 278h1v1h-1zM58 279h1v1h-1zM59 277h1v1h-1zM60 279h1v1h-1zM60 275h1v1h-1zM60 274h1v1h-1zM61 278h1v1h-1zM61 276h1v1h-1zM62 275h1v1h-1zM62 276h1v1h-1zM62 277h1v1h-1zM63 275h1v1h-1zM63 276h1v1h-1zM64 277h1v1h-1zM64 279h1v1h-1zM65 276h1v1h-1zM65 277h1v1h-1zM66 279h1v1h-1zM66 277h1v1h-1zM67 278h1v1h-1zM67 276h1v1h-1zM68 275h1v1h-1zM68 277h1v1h-1zM69 279h1v1h-1zM69 274h1v1h-1zM70 276h1v1h-1zM70 275h1v1h-1zM70 272h1v1h-1zM71 276h1v1h-1zM71 277h1v1h-1zM72 275h1v1h-1zM72 277h1v1h-1zM73 276h1v1h-1zM74 276h1v1h-1zM74 272h1v1h-1zM75 276h1v1h-1zM75 271h1v1h-1zM76 276h1v1h-1zM76 274h1v1h-1zM77 274h1v1h-1zM77 275h1v1h-1zM78 275h1v1h-1zM78 273h1v1h-1zM78 276h1v1h-1zM79 274h1v1h-1zM79 275h1v1h-1zM80 274h1v1h-1zM80 275h1v1h-1zM81 274h1v1h-1zM82 275h1v1h-1zM82 270h1v1h-1zM83 275h1v1h-1zM83 274h1v1h-1zM84 273h1v1h-1zM84 271h1v1h-1zM84 275h1v1h-1zM85 271h1v1h-1zM85 273h1v1h-1zM86 273h1v1h-1zM86 271h1v1h-1zM86 272h1v1h-1zM87 269h1v1h-1zM87 272h1v1h-1zM88 273h1v1h-1zM88 274h1v1h-1zM88 270h1v1h-1zM89 271h1v1h-1zM89 273h1v1h-1zM90 275h1v1h-1zM90 272h1v1h-1zM90 270h1v1h-1zM91 272h1v1h-1zM92 272h1v1h-1zM92 273h1v1h-1zM93 273h1v1h-1zM94 273h1v1h-1zM94 270h1v1h-1zM94 272h1v1h-1zM95 274h1v1h-1zM95 273h1v1h-1zM96 272h1v1h-1zM96 275h1v1h-1zM97 276h1v1h-1zM97 274h1v1h-1zM98 273h1v1h-1zM98 276h1v1h-1zM99 280h1v1h-1zM99 274h1v1h-1zM100 274h1v1h-1zM100 276h1v1h-1zM101 274h1v1h-1zM102 275h1v1h-1zM102 276h1v1h-1zM103 276h1v1h-1zM103 275h1v1h-1zM104 276h1v1h-1zM104 274h1v1h-1zM104 272h1v1h-1zM105 277h1v1h-1zM105 274h1v1h-1zM106 276h1v1h-1zM106 277h1v1h-1zM106 279h1v1h-1zM107 276h1v1h-1zM107 277h1v1h-1zM108 276h1v1h-1zM108 275h1v1h-1zM109 275h1v1h-1zM110 275h1v1h-1zM110 276h1v1h-1zM111 275h1v1h-1zM111 274h1v1h-1zM112 276h1v1h-1zM112 277h1v1h-1zM113 276h1v1h-1zM113 274h1v1h-1zM114 274h1v1h-1zM114 277h1v1h-1zM115 277h1v1h-1zM116 275h1v1h-1zM116 276h1v1h-1zM117 276h1v1h-1zM118 276h1v1h-1zM118 274h1v1h-1zM119 275h1v1h-1zM120 275h1v1h-1zM121 276h1v1h-1zM121 275h1v1h-1zM122 275h1v1h-1zM122 274h1v1h-1zM123 274h1v1h-1zM123 273h1v1h-1zM124 274h1v1h-1zM124 273h1v1h-1zM125 272h1v1h-1zM125 275h1v1h-1zM126 272h1v1h-1zM127 271h1v1h-1zM127 273h1v1h-1zM128 271h1v1h-1zM128 270h1v1h-1zM128 272h1v1h-1zM129 276h1v1h-1zM129 273h1v1h-1zM130 272h1v1h-1zM130 273h1v1h-1zM130 270h1v1h-1zM131 277h1v1h-1zM131 270h1v1h-1zM132 274h1v1h-1zM132 275h1v1h-1zM132 272h1v1h-1zM133 274h1v1h-1zM133 276h1v1h-1zM134 275h1v1h-1zM134 274h1v1h-1zM135 274h1v1h-1zM135 275h1v1h-1zM136 274h1v1h-1zM136 275h1v1h-1zM136 273h1v1h-1zM137 275h1v1h-1zM137 274h1v1h-1zM138 274h1v1h-1zM138 275h1v1h-1zM138 279h1v1h-1zM139 276h1v1h-1zM139 275h1v1h-1zM140 276h1v1h-1zM140 275h1v1h-1zM141 276h1v1h-1zM141 273h1v1h-1zM142 276h1v1h-1zM142 275h1v1h-1zM143 274h1v1h-1zM144 275h1v1h-1zM144 277h1v1h-1zM145 276h1v1h-1zM145 277h1v1h-1zM146 276h1v1h-1zM146 272h1v1h-1zM146 277h1v1h-1zM147 277h1v1h-1zM147 275h1v1h-1zM148 278h1v1h-1zM148 275h1v1h-1zM149 275h1v1h-1zM149 276h1v1h-1zM150 276h1v1h-1zM150 277h1v1h-1zM151 280h1v1h-1zM151 276h1v1h-1zM151 278h1v1h-1zM152 278h1v1h-1zM152 277h1v1h-1zM153 279h1v1h-1zM153 276h1v1h-1zM153 277h1v1h-1zM154 281h1v1h-1zM154 278h1v1h-1zM155 275h1v1h-1zM155 277h1v1h-1zM155 279h1v1h-1zM156 276h1v1h-1zM156 275h1v1h-1zM157 279h1v1h-1zM157 275h1v1h-1zM157 277h1v1h-1zM158 276h1v1h-1zM158 273h1v1h-1zM159 278h1v1h-1zM159 276h1v1h-1zM159 273h1v1h-1zM160 276h1v1h-1zM160 275h1v1h-1zM161 274h1v1h-1zM161 275h1v1h-1zM161 276h1v1h-1zM162 276h1v1h-1zM162 275h1v1h-1zM163 275h1v1h-1zM163 276h1v1h-1zM164 276h1v1h-1zM164 275h1v1h-1zM165 276h1v1h-1zM165 275h1v1h-1zM165 274h1v1h-1zM166 273h1v1h-1zM166 276h1v1h-1zM167 275h1v1h-1zM167 274h1v1h-1zM168 274h1v1h-1zM168 275h1v1h-1zM169 273h1v1h-1zM169 275h1v1h-1zM169 271h1v1h-1zM170 275h1v1h-1zM170 273h1v1h-1zM171 272h1v1h-1zM171 274h1v1h-1zM171 273h1v1h-1zM172 274h1v1h-1zM172 272h1v1h-1zM173 274h1v1h-1zM173 275h1v1h-1zM173 270h1v1h-1zM174 272h1v1h-1zM174 271h1v1h-1zM175 272h1v1h-1zM175 269h1v1h-1zM175 270h1v1h-1zM176 272h1v1h-1zM177 274h1v1h-1zM177 273h1v1h-1zM177 276h1v1h-1zM178 278h1v1h-1zM178 275h1v1h-1zM179 274h1v1h-1zM179 276h1v1h-1zM180 277h1v1h-1zM180 276h1v1h-1zM181 274h1v1h-1zM181 276h1v1h-1zM181 278h1v1h-1zM182 277h1v1h-1zM182 273h1v1h-1zM183 276h1v1h-1zM183 275h1v1h-1zM184 276h1v1h-1zM184 278h1v1h-1zM185 277h1v1h-1zM185 276h1v1h-1zM186 276h1v1h-1zM187 279h1v1h-1zM187 277h1v1h-1zM187 275h1v1h-1zM188 279h1v1h-1zM188 276h1v1h-1zM189 276h1v1h-1zM189 275h1v1h-1zM190 275h1v1h-1zM190 274h1v1h-1zM191 278h1v1h-1zM191 276h1v1h-1zM192 278h1v1h-1zM192 276h1v1h-1zM193 276h1v1h-1zM193 274h1v1h-1zM193 275h1v1h-1zM194 276h1v1h-1zM194 277h1v1h-1zM195 278h1v1h-1zM195 277h1v1h-1zM195 275h1v1h-1zM196 271h1v1h-1zM196 276h1v1h-1zM197 276h1v1h-1zM197 278h1v1h-1zM197 275h1v1h-1zM198 276h1v1h-1zM198 272h1v1h-1zM199 276h1v1h-1zM199 274h1v1h-1zM200 276h1v1h-1zM200 275h1v1h-1zM201 275h1v1h-1zM201 276h1v1h-1zM202 276h1v1h-1zM202 274h1v1h-1zM203 274h1v1h-1zM203 276h1v1h-1zM204 275h1v1h-1zM205 273h1v1h-1zM205 274h1v1h-1zM206 274h1v1h-1zM206 275h1v1h-1zM207 273h1v1h-1zM207 274h1v1h-1zM208 277h1v1h-1zM208 269h1v1h-1zM209 274h1v1h-1zM209 273h1v1h-1zM210 273h1v1h-1zM211 274h1v1h-1zM211 273h1v1h-1zM211 272h1v1h-1zM212 272h1v1h-1zM212 270h1v1h-1zM213 271h1v1h-1zM213 270h1v1h-1zM213 269h1v1h-1zM214 269h1v1h-1zM214 268h1v1h-1zM215 268h1v1h-1zM215 266h1v1h-1zM215 264h1v1h-1zM216 267h1v1h-1zM216 268h1v1h-1zM217 268h1v1h-1zM217 269h1v1h-1zM217 270h1v1h-1zM218 271h1v1h-1zM218 273h1v1h-1zM219 276h1v1h-1zM219 273h1v1h-1zM220 277h1v1h-1zM220 275h1v1h-1zM221 277h1v1h-1zM221 274h1v1h-1zM221 275h1v1h-1zM222 277h1v1h-1zM222 276h1v1h-1zM223 275h1v1h-1zM223 277h1v1h-1zM223 281h1v1h-1zM224 275h1v1h-1zM224 278h1v1h-1zM225 275h1v1h-1zM225 276h1v1h-1zM226 274h1v1h-1zM226 277h1v1h-1zM227 276h1v1h-1zM227 275h1v1h-1zM228 272h1v1h-1zM228 275h1v1h-1zM229 276h1v1h-1zM229 272h1v1h-1zM229 275h1v1h-1zM230 276h1v1h-1zM230 277h1v1h-1zM231 277h1v1h-1zM231 275h1v1h-1zM232 276h1v1h-1zM232 275h1v1h-1zM233 275h1v1h-1zM233 278h1v1h-1zM233 279h1v1h-1zM234 276h1v1h-1zM234 275h1v1h-1zM235 276h1v1h-1zM235 271h1v1h-1zM235 275h1v1h-1zM236 273h1v1h-1zM236 280h1v1h-1zM237 276h1v1h-1zM237 275h1v1h-1zM238 269h1v1h-1zM238 275h1v1h-1zM239 276h1v1h-1zM239 274h1v1h-1zM239 275h1v1h-1zM240 276h1v1h-1zM240 273h1v1h-1zM241 275h1v1h-1zM241 276h1v1h-1zM242 274h1v1h-1zM242 276h1v1h-1zM243 273h1v1h-1zM243 275h1v1h-1zM244 272h1v1h-1zM244 277h1v1h-1zM245 274h1v1h-1zM245 270h1v1h-1zM245 275h1v1h-1zM246 273h1v1h-1zM246 275h1v1h-1zM247 272h1v1h-1zM247 277h1v1h-1zM247 274h1v1h-1zM248 275h1v1h-1zM248 273h1v1h-1zM249 274h1v1h-1zM249 275h1v1h-1zM250 273h1v1h-1zM250 271h1v1h-1zM251 273h1v1h-1zM251 270h1v1h-1zM252 270h1v1h-1zM252 269h1v1h-1zM253 268h1v1h-1zM253 267h1v1h-1zM254 267h1v1h-1zM254 263h1v1h-1zM255 264h1v1h-1zM255 263h1v1h-1zM255 261h1v1h-1zM256 260h1v1h-1zM256 256h1v1h-1zM257 259h1v1h-1zM257 264h1v1h-1zM257 267h1v1h-1zM258 272h1v1h-1zM258 271h1v1h-1zM259 276h1v1h-1zM259 273h1v1h-1zM259 274h1v1h-1zM260 273h1v1h-1zM260 275h1v1h-1zM261 275h1v1h-1zM262 273h1v1h-1zM262 272h1v1h-1zM263 274h1v1h-1zM263 273h1v1h-1zM263 275h1v1h-1zM264 274h1v1h-1zM265 275h1v1h-1zM265 273h1v1h-1zM266 272h1v1h-1zM266 275h1v1h-1zM267 275h1v1h-1zM268 273h1v1h-1zM268 274h1v1h-1zM269 275h1v1h-1zM269 272h1v1h-1zM269 274h1v1h-1zM270 276h1v1h-1zM270 277h1v1h-1zM271 277h1v1h-1zM271 275h1v1h-1zM272 276h1v1h-1zM272 275h1v1h-1zM273 276h1v1h-1zM273 274h1v1h-1zM274 274h1v1h-1zM274 275h1v1h-1zM275 276h1v1h-1zM275 275h1v1h-1zM275 274h1v1h-1zM285 260h1v1h-1zM285 264h1v1h-1zM285 266h1v1h-1zM286 262h1v1h-1zM286 265h1v1h-1zM287 259h1v1h-1zM287 264h1v1h-1zM287 263h1v1h-1zM288 265h1v1h-1zM288 262h1v1h-1zM289 258h1v1h-1zM289 264h1v1h-1zM289 265h1v1h-1zM290 263h1v1h-1zM290 264h1v1h-1zM291 263h1v1h-1zM291 262h1v1h-1zM292 265h1v1h-1zM292 260h1v1h-1zM293 261h1v1h-1zM293 260h1v1h-1zM293 256h1v1h-1zM294 256h1v1h-1zM294 254h1v1h-1zM295 249h1v1h-1zM295 256h1v1h-1zM295 254h1v1h-1zM296 256h1v1h-1zM296 260h1v1h-1zM297 260h1v1h-1zM297 263h1v1h-1zM297 267h1v1h-1zM298 270h1v1h-1zM298 268h1v1h-1zM299 267h1v1h-1zM299 270h1v1h-1zM300 268h1v1h-1zM300 270h1v1h-1zM301 269h1v1h-1zM302 271h1v1h-1zM302 268h1v1h-1zM303 270h1v1h-1zM303 271h1v1h-1zM304 269h1v1h-1zM304 270h1v1h-1zM305 270h1v1h-1zM305 271h1v1h-1zM306 270h1v1h-1zM306 271h1v1h-1zM307 270h1v1h-1zM307 271h1v1h-1zM308 270h1v1h-1zM308 271h1v1h-1zM309 271h1v1h-1zM309 276h1v1h-1zM309 270h1v1h-1zM310 271h1v1h-1zM310 272h1v1h-1zM311 267h1v1h-1zM311 270h1v1h-1zM312 271h1v1h-1zM312 277h1v1h-1zM313 272h1v1h-1zM313 274h1v1h-1zM313 271h1v1h-1zM314 270h1v1h-1zM315 273h1v1h-1zM315 272h1v1h-1zM315 269h1v1h-1zM316 273h1v1h-1zM316 269h1v1h-1zM317 273h1v1h-1zM317 274h1v1h-1zM317 271h1v1h-1zM318 270h1v1h-1zM318 273h1v1h-1zM319 272h1v1h-1zM319 273h1v1h-1zM319 270h1v1h-1zM320 274h1v1h-1zM320 273h1v1h-1zM321 272h1v1h-1zM321 271h1v1h-1zM321 273h1v1h-1zM322 271h1v1h-1zM322 272h1v1h-1zM323 273h1v1h-1zM323 274h1v1h-1zM323 272h1v1h-1zM324 275h1v1h-1zM324 272h1v1h-1zM325 271h1v1h-1zM325 276h1v1h-1zM325 277h1v1h-1zM326 273h1v1h-1zM326 271h1v1h-1zM327 273h1v1h-1zM327 272h1v1h-1zM328 274h1v1h-1zM328 273h1v1h-1zM329 273h1v1h-1zM330 274h1v1h-1zM331 273h1v1h-1zM331 275h1v1h-1zM332 273h1v1h-1zM333 275h1v1h-1zM333 271h1v1h-1zM333 269h1v1h-1zM334 271h1v1h-1zM334 270h1v1h-1zM335 272h1v1h-1zM335 274h1v1h-1zM335 273h1v1h-1zM336 272h1v1h-1zM336 274h1v1h-1zM337 274h1v1h-1zM337 278h1v1h-1zM337 273h1v1h-1zM338 275h1v1h-1zM338 277h1v1h-1zM339 276h1v1h-1zM339 278h1v1h-1zM340 275h1v1h-1zM340 274h1v1h-1zM340 276h1v1h-1zM341 277h1v1h-1zM342 275h1v1h-1zM342 277h1v1h-1zM343 275h1v1h-1zM343 279h1v1h-1zM344 276h1v1h-1zM344 275h1v1h-1zM345 278h1v1h-1zM345 277h1v1h-1zM346 274h1v1h-1zM346 276h1v1h-1zM347 276h1v1h-1zM347 275h1v1h-1zM348 275h1v1h-1zM348 277h1v1h-1zM348 274h1v1h-1zM349 276h1v1h-1zM349 275h1v1h-1zM350 276h1v1h-1zM350 277h1v1h-1zM351 276h1v1h-1zM352 276h1v1h-1zM352 279h1v1h-1zM352 277h1v1h-1zM353 277h1v1h-1zM353 276h1v1h-1zM354 276h1v1h-1zM354 277h1v1h-1zM354 275h1v1h-1zM355 280h1v1h-1zM355 276h1v1h-1zM356 275h1v1h-1zM356 279h1v1h-1zM356 277h1v1h-1zM357 276h1v1h-1zM357 275h1v1h-1zM358 272h1v1h-1zM358 276h1v1h-1zM358 277h1v1h-1zM359 273h1v1h-1zM359 276h1v1h-1zM360 273h1v1h-1zM360 274h1v1h-1zM360 276h1v1h-1zM361 275h1v1h-1zM361 276h1v1h-1zM362 274h1v1h-1zM362 273h1v1h-1zM362 270h1v1h-1zM363 273h1v1h-1zM364 271h1v1h-1zM364 274h1v1h-1zM364 272h1v1h-1zM365 272h1v1h-1zM365 279h1v1h-1zM366 273h1v1h-1zM366 271h1v1h-1zM366 276h1v1h-1zM367 274h1v1h-1zM367 271h1v1h-1zM368 270h1v1h-1zM368 272h1v1h-1zM368 276h1v1h-1zM369 273h1v1h-1zM370 274h1v1h-1zM370 275h1v1h-1zM370 271h1v1h-1zM371 273h1v1h-1zM371 271h1v1h-1zM372 279h1v1h-1zM372 278h1v1h-1zM372 276h1v1h-1zM373 275h1v1h-1zM373 276h1v1h-1zM374 273h1v1h-1zM374 276h1v1h-1zM374 274h1v1h-1zM375 273h1v1h-1zM375 275h1v1h-1zM376 276h1v1h-1zM376 277h1v1h-1zM376 278h1v1h-1zM377 277h1v1h-1zM377 276h1v1h-1zM378 277h1v1h-1zM378 276h1v1h-1zM378 278h1v1h-1zM379 276h1v1h-1zM379 271h1v1h-1zM380 276h1v1h-1zM380 282h1v1h-1zM380 278h1v1h-1zM381 277h1v1h-1zM381 279h1v1h-1zM382 277h1v1h-1zM382 276h1v1h-1zM383 277h1v1h-1zM384 276h1v1h-1zM384 277h1v1h-1zM385 279h1v1h-1zM385 277h1v1h-1zM386 278h1v1h-1zM386 277h1v1h-1zM386 282h1v1h-1zM387 277h1v1h-1zM387 279h1v1h-1zM388 281h1v1h-1zM388 276h1v1h-1zM388 277h1v1h-1zM389 277h1v1h-1zM389 278h1v1h-1zM390 276h1v1h-1zM391 275h1v1h-1zM391 277h1v1h-1zM392 275h1v1h-1zM392 274h1v1h-1zM393 271h1v1h-1zM393 273h1v1h-1zM394 275h1v1h-1zM394 273h1v1h-1zM394 276h1v1h-1zM395 272h1v1h-1zM395 275h1v1h-1zM396 275h1v1h-1zM396 276h1v1h-1zM397 275h1v1h-1zM397 274h1v1h-1zM398 274h1v1h-1zM398 277h1v1h-1zM399 275h1v1h-1zM399 274h1v1h-1zM400 274h1v1h-1zM400 276h1v1h-1zM401 273h1v1h-1zM401 274h1v1h-1zM402 274h1v1h-1zM403 273h1v1h-1zM403 275h1v1h-1zM404 271h1v1h-1zM404 273h1v1h-1zM404 270h1v1h-1zM405 273h1v1h-1zM405 272h1v1h-1zM406 272h1v1h-1zM406 273h1v1h-1zM406 275h1v1h-1zM407 274h1v1h-1zM408 277h1v1h-1zM408 272h1v1h-1zM409 274h1v1h-1zM410 276h1v1h-1zM410 280h1v1h-1zM410 274h1v1h-1zM411 277h1v1h-1zM412 276h1v1h-1zM412 281h1v1h-1zM413 276h1v1h-1zM413 275h1v1h-1zM414 276h1v1h-1zM414 275h1v1h-1zM414 277h1v1h-1zM415 276h1v1h-1zM415 277h1v1h-1zM416 277h1v1h-1zM416 274h1v1h-1zM417 275h1v1h-1zM417 278h1v1h-1zM418 275h1v1h-1zM418 277h1v1h-1zM419 276h1v1h-1zM420 272h1v1h-1zM420 274h1v1h-1zM420 276h1v1h-1zM421 278h1v1h-1zM421 273h1v1h-1zM422 274h1v1h-1zM422 276h1v1h-1zM423 275h1v1h-1zM423 274h1v1h-1zM424 277h1v1h-1zM425 275h1v1h-1zM425 276h1v1h-1zM426 275h1v1h-1zM426 277h1v1h-1zM427 276h1v1h-1zM427 275h1v1h-1zM428 279h1v1h-1zM428 277h1v1h-1zM428 278h1v1h-1zM429 277h1v1h-1zM430 273h1v1h-1zM430 275h1v1h-1zM430 277h1v1h-1zM431 275h1v1h-1zM432 276h1v1h-1zM432 278h1v1h-1zM433 276h1v1h-1zM433 275h1v1h-1zM434 277h1v1h-1zM434 275h1v1h-1zM434 274h1v1h-1zM435 275h1v1h-1zM436 273h1v1h-1zM436 275h1v1h-1zM437 274h1v1h-1zM437 272h1v1h-1zM438 273h1v1h-1zM438 271h1v1h-1zM439 268h1v1h-1zM439 273h1v1h-1zM440 271h1v1h-1zM441 270h1v1h-1zM441 271h1v1h-1zM442 269h1v1h-1zM442 270h1v1h-1zM443 272h1v1h-1zM443 271h1v1h-1zM444 270h1v1h-1zM444 267h1v1h-1zM444 269h1v1h-1zM445 272h1v1h-1zM446 273h1v1h-1zM446 270h1v1h-1zM446 267h1v1h-1zM447 272h1v1h-1zM448 272h1v1h-1zM448 274h1v1h-1zM448 273h1v1h-1zM449 272h1v1h-1zM450 274h1v1h-1zM451 276h1v1h-1zM451 274h1v1h-1zM452 274h1v1h-1zM453 276h1v1h-1zM454 275h1v1h-1zM454 276h1v1h-1zM455 274h1v1h-1zM455 273h1v1h-1zM456 280h1v1h-1zM456 276h1v1h-1zM456 275h1v1h-1zM457 274h1v1h-1zM458 276h1v1h-1zM458 273h1v1h-1zM458 275h1v1h-1zM459 276h1v1h-1zM459 275h1v1h-1zM460 276h1v1h-1zM460 275h1v1h-1zM460 277h1v1h-1zM461 272h1v1h-1zM461 273h1v1h-1zM462 275h1v1h-1zM462 276h1v1h-1zM462 274h1v1h-1zM463 275h1v1h-1zM463 274h1v1h-1zM464 273h1v1h-1zM464 277h1v1h-1zM464 276h1v1h-1zM465 276h1v1h-1zM465 274h1v1h-1zM466 272h1v1h-1zM466 273h1v1h-1zM466 274h1v1h-1zM467 276h1v1h-1zM467 275h1v1h-1zM468 273h1v1h-1zM468 275h1v1h-1zM469 275h1v1h-1zM470 275h1v1h-1zM470 276h1v1h-1zM471 275h1v1h-1zM471 274h1v1h-1zM472 275h1v1h-1zM472 273h1v1h-1zM473 276h1v1h-1zM473 275h1v1h-1zM474 276h1v1h-1zM474 275h1v1h-1zM475 275h1v1h-1zM476 274h1v1h-1zM476 277h1v1h-1zM477 273h1v1h-1zM478 275h1v1h-1zM478 273h1v1h-1zM479 272h1v1h-1zM480 271h1v1h-1zM480 272h1v1h-1zM480 269h1v1h-1zM481 270h1v1h-1zM481 268h1v1h-1zM482 268h1v1h-1zM482 269h1v1h-1zM482 270h1v1h-1zM483 269h1v1h-1zM483 268h1v1h-1zM484 271h1v1h-1zM484 272h1v1h-1zM485 272h1v1h-1zM485 271h1v1h-1zM486 270h1v1h-1zM486 271h1v1h-1zM487 269h1v1h-1zM487 271h1v1h-1zM488 270h1v1h-1zM488 271h1v1h-1zM489 275h1v1h-1zM489 272h1v1h-1zM490 274h1v1h-1zM490 272h1v1h-1zM490 270h1v1h-1zM491 272h1v1h-1zM491 274h1v1h-1zM492 273h1v1h-1zM492 276h1v1h-1zM493 274h1v1h-1zM493 273h1v1h-1zM494 273h1v1h-1zM494 272h1v1h-1zM494 274h1v1h-1zM495 273h1v1h-1zM495 274h1v1h-1zM496 275h1v1h-1zM496 274h1v1h-1zM496 273h1v1h-1zM497 274h1v1h-1zM498 275h1v1h-1zM498 276h1v1h-1zM498 274h1v1h-1zM499 271h1v1h-1zM499 276h1v1h-1zM500 275h1v1h-1zM501 272h1v1h-1zM501 274h1v1h-1zM502 274h1v1h-1zM502 275h1v1h-1zM503 268h1v1h-1zM503 273h1v1h-1zM504 274h1v1h-1zM504 275h1v1h-1zM505 279h1v1h-1zM505 275h1v1h-1zM506 274h1v1h-1zM506 272h1v1h-1zM507 274h1v1h-1zM508 272h1v1h-1zM508 274h1v1h-1zM509 272h1v1h-1zM510 272h1v1h-1zM510 273h1v1h-1zM511 273h1v1h-1zM511 270h1v1h-1zM512 271h1v1h-1zM512 272h1v1h-1zM513 273h1v1h-1zM513 272h1v1h-1zM514 271h1v1h-1zM514 272h1v1h-1zM514 275h1v1h-1zM515 267h1v1h-1zM515 268h1v1h-1zM516 260h1v1h-1zM516 262h1v1h-1zM516 264h1v1h-1zM517 263h1v1h-1zM517 265h1v1h-1zM518 265h1v1h-1zM518 262h1v1h-1zM519 265h1v1h-1zM519 264h1v1h-1zM520 266h1v1h-1zM520 265h1v1h-1zM520 269h1v1h-1zM521 266h1v1h-1zM521 272h1v1h-1zM522 268h1v1h-1zM522 273h1v1h-1zM522 270h1v1h-1zM523 270h1v1h-1zM523 271h1v1h-1zM524 271h1v1h-1zM524 272h1v1h-1zM525 270h1v1h-1zM526 269h1v1h-1zM526 271h1v1h-1zM526 272h1v1h-1zM527 272h1v1h-1zM528 271h1v1h-1zM528 272h1v1h-1zM529 273h1v1h-1zM529 269h1v1h-1zM530 270h1v1h-1zM530 273h1v1h-1zM531 272h1v1h-1zM531 273h1v1h-1zM532 271h1v1h-1zM532 273h1v1h-1zM533 271h1v1h-1zM533 276h1v1h-1zM533 273h1v1h-1zM534 273h1v1h-1zM534 274h1v1h-1zM535 273h1v1h-1zM535 269h1v1h-1zM535 274h1v1h-1zM536 275h1v1h-1zM536 273h1v1h-1zM537 274h1v1h-1zM537 272h1v1h-1zM538 275h1v1h-1zM539 275h1v1h-1zM539 274h1v1h-1zM540 274h1v1h-1zM540 275h1v1h-1zM541 276h1v1h-1zM541 274h1v1h-1zM542 275h1v1h-1zM542 274h1v1h-1zM543 274h1v1h-1zM543 275h1v1h-1zM544 274h1v1h-1zM544 272h1v1h-1zM545 275h1v1h-1zM545 276h1v1h-1zM546 273h1v1h-1zM546 274h1v1h-1zM547 275h1v1h-1zM547 273h1v1h-1zM548 272h1v1h-1zM548 275h1v1h-1zM549 274h1v1h-1zM549 272h1v1h-1zM550 273h1v1h-1zM551 273h1v1h-1zM552 272h1v1h-1zM552 271h1v1h-1zM553 272h1v1h-1zM553 274h1v1h-1zM554 269h1v1h-1zM554 268h1v1h-1zM555 268h1v1h-1zM555 267h1v1h-1zM555 261h1v1h-1zM556 259h1v1h-1zM556 254h1v1h-1zM557 256h1v1h-1zM557 254h1v1h-1zM558 258h1v1h-1zM558 261h1v1h-1zM559 261h1v1h-1zM559 263h1v1h-1zM559 267h1v1h-1zM560 267h1v1h-1zM561 269h1v1h-1zM561 270h1v1h-1zM562 268h1v1h-1zM562 270h1v1h-1zM563 269h1v1h-1zM563 270h1v1h-1zM563 267h1v1h-1zM564 271h1v1h-1zM565 274h1v1h-1zM565 272h1v1h-1zM566 272h1v1h-1zM566 277h1v1h-1zM567 272h1v1h-1zM567 273h1v1h-1zM568 273h1v1h-1zM569 274h1v1h-1zM569 270h1v1h-1zM570 277h1v1h-1zM570 273h1v1h-1zM571 274h1v1h-1zM571 273h1v1h-1zM571 272h1v1h-1zM572 274h1v1h-1zM572 275h1v1h-1zM573 274h1v1h-1zM573 273h1v1h-1zM573 275h1v1h-1zM574 275h1v1h-1zM575 275h1v1h-1zM575 274h1v1h-1zM576 273h1v1h-1zM576 275h1v1h-1zM577 275h1v1h-1zM577 277h1v1h-1zM578 274h1v1h-1zM579 274h1v1h-1zM579 270h1v1h-1zM580 275h1v1h-1zM580 273h1v1h-1zM581 275h1v1h-1zM582 274h1v1h-1zM582 273h1v1h-1zM583 276h1v1h-1zM583 274h1v1h-1zM584 273h1v1h-1zM584 274h1v1h-1zM585 274h1v1h-1zM585 270h1v1h-1zM586 275h1v1h-1zM586 271h1v1h-1zM587 274h1v1h-1zM588 271h1v1h-1zM588 277h1v1h-1zM589 275h1v1h-1zM589 276h1v1h-1zM590 272h1v1h-1zM591 275h1v1h-1zM591 277h1v1h-1zM592 273h1v1h-1zM592 274h1v1h-1zM593 274h1v1h-1zM593 271h1v1h-1zM594 269h1v1h-1zM594 272h1v1h-1zM595 266h1v1h-1zM595 268h1v1h-1zM595 262h1v1h-1zM596 260h1v1h-1zM596 268h1v1h-1zM597 263h1v1h-1zM597 266h1v1h-1zM597 268h1v1h-1zM598 266h1v1h-1zM598 265h1v1h-1zM599 269h1v1h-1zM600 268h1v1h-1zM600 270h1v1h-1zM601 273h1v1h-1zM601 270h1v1h-1zM602 273h1v1h-1zM603 275h1v1h-1zM603 271h1v1h-1zM604 276h1v1h-1zM604 274h1v1h-1zM605 273h1v1h-1zM605 272h1v1h-1zM606 273h1v1h-1zM606 274h1v1h-1zM607 273h1v1h-1zM607 272h1v1h-1zM608 275h1v1h-1zM608 274h1v1h-1zM609 274h1v1h-1zM609 277h1v1h-1zM610 275h1v1h-1zM610 272h1v1h-1zM611 275h1v1h-1zM612 275h1v1h-1zM612 274h1v1h-1zM613 275h1v1h-1zM613 278h1v1h-1zM614 278h1v1h-1zM614 273h1v1h-1zM615 276h1v1h-1zM615 275h1v1h-1zM615 277h1v1h-1zM616 275h1v1h-1zM616 274h1v1h-1zM617 277h1v1h-1zM617 276h1v1h-1zM617 275h1v1h-1zM618 272h1v1h-1zM618 275h1v1h-1zM619 273h1v1h-1zM619 275h1v1h-1zM619 276h1v1h-1zM620 277h1v1h-1zM620 275h1v1h-1zM621 277h1v1h-1zM621 275h1v1h-1zM622 274h1v1h-1zM622 278h1v1h-1zM623 277h1v1h-1zM623 281h1v1h-1zM284 304h1v1h-1zM284 308h1v1h-1zM284 312h1v1h-1zM283 316h1v1h-1zM283 319h1v1h-1zM282 338h1v1h-1zM283 342h1v1h-1zM281 345h1v1h-1zM281 352h1v1h-1zM280 352h1v1h-1zM279 356h1v1h-1zM282 358h1v1h-1zM280 365h1v1h-1zM281 368h1v1h-1zM280 373h1v1h-1zM278 389h1v1h-1zM277 391h1v1h-1zM276 399h1v1h-1zM276 402h1v1h-1zM276 404h1v1h-1zM278 407h1v1h-1zM277 414h1v1h-1zM464 259h1v1h-1zM462 268h1v1h-1zM607 252h1v1h-1zM607 262h1v1h-1z"/></g>
<g><text x="33.5" y="30" font-size="8.6" textLength="9" lengthAdjust="spacingAndGlyphs">10</text><text x="46.6" y="26.2" font-size="6" font-weight="bold" textLength="3.4" lengthAdjust="spacingAndGlyphs">5</text><text x="33.5" y="133" font-size="8.6" textLength="9" lengthAdjust="spacingAndGlyphs">10</text><text x="46.6" y="129.2" font-size="6" font-weight="bold" textLength="3.4" lengthAdjust="spacingAndGlyphs">6</text><text x="33.5" y="238" font-size="8.6" textLength="9" lengthAdjust="spacingAndGlyphs">10</text><text x="46.6" y="234.2" font-size="6" font-weight="bold" textLength="3.4" lengthAdjust="spacingAndGlyphs">7</text><text x="33.5" y="343" font-size="8.6" textLength="9" lengthAdjust="spacingAndGlyphs">10</text><text x="46.6" y="339.2" font-size="6" font-weight="bold" textLength="3.4" lengthAdjust="spacingAndGlyphs">8</text><text x="33.5" y="445" font-size="8.6" textLength="9" lengthAdjust="spacingAndGlyphs">10</text><text x="46.6" y="441.2" font-size="6" font-weight="bold" textLength="3.4" lengthAdjust="spacingAndGlyphs">9</text><text x="157.25" y="19" font-size="13.1" text-anchor="start" textLength="32.27" lengthAdjust="spacingAndGlyphs" >GOES</text><text x="196.2" y="19" font-size="13.1" text-anchor="start" textLength="16.08" lengthAdjust="spacingAndGlyphs" >0.1</text><text x="226.1" y="19" font-size="13.1" text-anchor="start" textLength="39.05" lengthAdjust="spacing" >0.8nm</text><text x="271.4" y="19" font-size="13.1" text-anchor="start" textLength="35.52" lengthAdjust="spacing" >(red),</text><text x="312.03" y="19" font-size="13.1" text-anchor="start" textLength="28.77" lengthAdjust="spacingAndGlyphs" >LYRA</text><text x="347.0" y="19" font-size="13.1" text-anchor="start" textLength="10.81" lengthAdjust="spacingAndGlyphs" >Al</text><text x="363.9" y="19" font-size="13.1" text-anchor="start" textLength="36.0" lengthAdjust="spacing" >(blue)</text><text x="406.8" y="19" font-size="13.1" text-anchor="start" textLength="8.93" lengthAdjust="spacingAndGlyphs" >&amp;</text><text x="424.0" y="19" font-size="13.1" text-anchor="start" textLength="12.5" lengthAdjust="spacing" >Zr</text><text x="443.0" y="19" font-size="13.1" text-anchor="start" textLength="37.0" lengthAdjust="spacing" >(grey)</text><text x="485.9" y="19" font-size="13.1" text-anchor="start" textLength="32.42" lengthAdjust="spacing" >proxy</text><text x="266.9" y="470" font-size="10.6" text-anchor="start" textLength="23.78" lengthAdjust="spacing" >Time</text><text x="306.7" y="470" font-size="10.6" text-anchor="start" textLength="6.5" lengthAdjust="spacingAndGlyphs" >h</text><text x="317.69" y="470" font-size="10.6" text-anchor="start" textLength="22.46" lengthAdjust="spacingAndGlyphs" >UTC,</text><text x="345.5" y="470" font-size="10.6" text-anchor="start" textLength="13.03" lengthAdjust="spacing" >24</text><text x="363.0" y="470" font-size="10.6" text-anchor="start" textLength="16.19" lengthAdjust="spacingAndGlyphs" >Apr</text><text x="384.0" y="470" font-size="10.6" text-anchor="start" textLength="23.78" lengthAdjust="spacing" >2020</text><text x="487.7" y="495" font-size="10.8" text-anchor="start" textLength="56.12" lengthAdjust="spacing" >ROB/SIDC,</text><text x="548.8" y="495" font-size="10.8" text-anchor="start" textLength="46.13" lengthAdjust="spacing" >Brussels,</text><text x="600.5" y="495" font-size="10.8" text-anchor="start" textLength="41.87" lengthAdjust="spacing" >Belgium</text><text x="49.0" y="458" font-size="10.0" text-anchor="start" textLength="6.45" lengthAdjust="spacingAndGlyphs" >0</text><text x="167.8" y="458" font-size="10.0" text-anchor="start" textLength="6.68" lengthAdjust="spacingAndGlyphs" >5</text><text x="284.2" y="458" font-size="10.0" text-anchor="start" textLength="12.69" lengthAdjust="spacing" >10</text><text x="403.9" y="458" font-size="10.0" text-anchor="start" textLength="12.69" lengthAdjust="spacing" >15</text><text x="522.8" y="458" font-size="10.0" text-anchor="start" textLength="12.69" lengthAdjust="spacing" >20</text><text x="632.0" y="80" font-size="11.5" text-anchor="start" textLength="6.03" lengthAdjust="spacingAndGlyphs" >C</text><text x="631.03" y="185" font-size="11.5" text-anchor="start" textLength="7.42" lengthAdjust="spacingAndGlyphs" >B</text><text x="632.0" y="290" font-size="11.5" text-anchor="start" textLength="5.56" lengthAdjust="spacingAndGlyphs" >A</text><text x="211.7" y="27" font-size="8.7" text-anchor="start" textLength="19.38" lengthAdjust="spacingAndGlyphs" transform="translate(0,500) rotate(-90)" >GOES</text><text x="234.9" y="27" font-size="8.7" text-anchor="start" textLength="38.72" lengthAdjust="spacing" transform="translate(0,500) rotate(-90)" >Irradiance</text><text x="288.0" y="27" font-size="8.7" text-anchor="start" textLength="10.09" lengthAdjust="spacingAndGlyphs" transform="translate(0,500) rotate(-90)" >(W</text><text x="301.7" y="27" font-size="8.7" text-anchor="start" textLength="7.04" lengthAdjust="spacingAndGlyphs" transform="translate(0,500) rotate(-90)" >m</text><text x="309.16" y="22.3" font-size="5.6" text-anchor="start" textLength="7.92" lengthAdjust="spacingAndGlyphs" transform="translate(0,500) rotate(-90)" >&#8722;2</text><text x="318.0" y="27" font-size="8.7" text-anchor="start" textLength="1.45" lengthAdjust="spacingAndGlyphs" transform="translate(0,500) rotate(-90)" >)</text></g>
<line x1="295.8" y1="472.6" x2="301.6" y2="462.6" stroke="#000" stroke-width="1"/>
<line x1="19.6" y1="216.6" x2="27.4" y2="221.4" stroke="#000" stroke-width="1"/>
</svg>
</body></html>
